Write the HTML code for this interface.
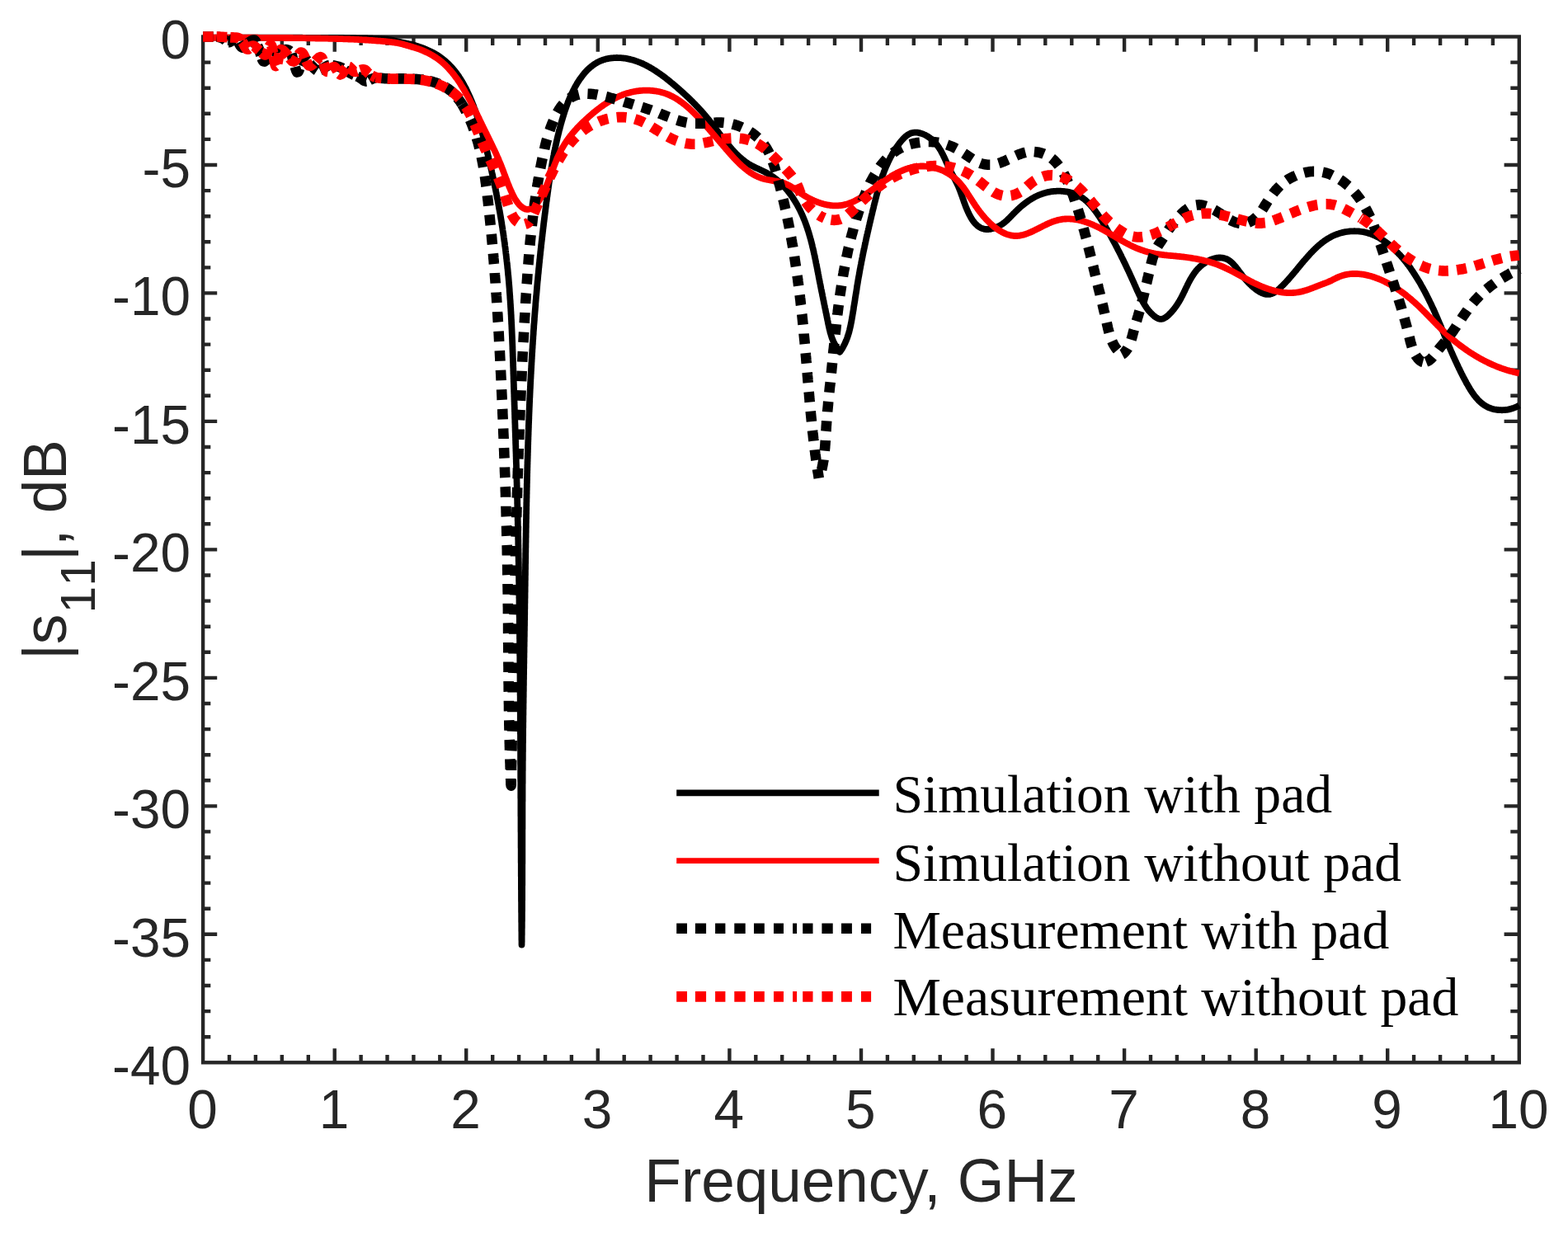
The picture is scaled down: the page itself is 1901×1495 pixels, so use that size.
<!DOCTYPE html>
<html lang="en">
<head>
<meta charset="utf-8">
<title>|s11| versus frequency</title>
<style>
html,body{margin:0;padding:0;background:#fff;}
body{width:1901px;height:1495px;overflow:hidden;}
svg{display:block;}
.tk{font-family:"Liberation Sans",Arial,Helvetica,sans-serif;fill:#262626;}
.lg{font-family:"Liberation Serif","Times New Roman",Times,serif;fill:#000;}
</style>
</head>
<body>
<svg width="1901" height="1495" viewBox="0 0 1901 1495">
<rect x="0" y="0" width="1901" height="1495" fill="#fff"/>
<g stroke="#262626" stroke-width="4.4" fill="none" stroke-linecap="butt">
<path d="M278,1288.3 V1279.1 M278,44.5 V54.9 M309.9,1288.3 V1279.1 M309.9,44.5 V54.9 M341.8,1288.3 V1279.1 M341.8,44.5 V54.9 M373.8,1288.3 V1279.1 M373.8,44.5 V54.9 M405.7,1288.3 V1271.2 M405.7,44.5 V62.7 M437.6,1288.3 V1279.1 M437.6,44.5 V54.9 M469.5,1288.3 V1279.1 M469.5,44.5 V54.9 M501.4,1288.3 V1279.1 M501.4,44.5 V54.9 M533.3,1288.3 V1279.1 M533.3,44.5 V54.9 M565.2,1288.3 V1271.2 M565.2,44.5 V62.7 M597.2,1288.3 V1279.1 M597.2,44.5 V54.9 M629.1,1288.3 V1279.1 M629.1,44.5 V54.9 M661,1288.3 V1279.1 M661,44.5 V54.9 M692.9,1288.3 V1279.1 M692.9,44.5 V54.9 M724.8,1288.3 V1271.2 M724.8,44.5 V62.7 M756.7,1288.3 V1279.1 M756.7,44.5 V54.9 M788.6,1288.3 V1279.1 M788.6,44.5 V54.9 M820.6,1288.3 V1279.1 M820.6,44.5 V54.9 M852.5,1288.3 V1279.1 M852.5,44.5 V54.9 M884.4,1288.3 V1271.2 M884.4,44.5 V62.7 M916.3,1288.3 V1279.1 M916.3,44.5 V54.9 M948.2,1288.3 V1279.1 M948.2,44.5 V54.9 M980.1,1288.3 V1279.1 M980.1,44.5 V54.9 M1012,1288.3 V1279.1 M1012,44.5 V54.9 M1044,1288.3 V1271.2 M1044,44.5 V62.7 M1075.9,1288.3 V1279.1 M1075.9,44.5 V54.9 M1107.8,1288.3 V1279.1 M1107.8,44.5 V54.9 M1139.7,1288.3 V1279.1 M1139.7,44.5 V54.9 M1171.6,1288.3 V1279.1 M1171.6,44.5 V54.9 M1203.5,1288.3 V1271.2 M1203.5,44.5 V62.7 M1235.4,1288.3 V1279.1 M1235.4,44.5 V54.9 M1267.3,1288.3 V1279.1 M1267.3,44.5 V54.9 M1299.3,1288.3 V1279.1 M1299.3,44.5 V54.9 M1331.2,1288.3 V1279.1 M1331.2,44.5 V54.9 M1363.1,1288.3 V1271.2 M1363.1,44.5 V62.7 M1395,1288.3 V1279.1 M1395,44.5 V54.9 M1426.9,1288.3 V1279.1 M1426.9,44.5 V54.9 M1458.8,1288.3 V1279.1 M1458.8,44.5 V54.9 M1490.7,1288.3 V1279.1 M1490.7,44.5 V54.9 M1522.7,1288.3 V1271.2 M1522.7,44.5 V62.7 M1554.6,1288.3 V1279.1 M1554.6,44.5 V54.9 M1586.5,1288.3 V1279.1 M1586.5,44.5 V54.9 M1618.4,1288.3 V1279.1 M1618.4,44.5 V54.9 M1650.3,1288.3 V1279.1 M1650.3,44.5 V54.9 M1682.2,1288.3 V1271.2 M1682.2,44.5 V62.7 M1714.1,1288.3 V1279.1 M1714.1,44.5 V54.9 M1746.1,1288.3 V1279.1 M1746.1,44.5 V54.9 M1778,1288.3 V1279.1 M1778,44.5 V54.9 M1809.9,1288.3 V1279.1 M1809.9,44.5 V54.9 M246.1,75.6 H255.3 M1841.8,75.6 H1831.3 M246.1,106.7 H255.3 M1841.8,106.7 H1831.3 M246.1,137.8 H255.3 M1841.8,137.8 H1831.3 M246.1,168.9 H255.3 M1841.8,168.9 H1831.3 M246.1,200 H263.2 M1841.8,200 H1823.6 M246.1,231.1 H255.3 M1841.8,231.1 H1831.3 M246.1,262.2 H255.3 M1841.8,262.2 H1831.3 M246.1,293.3 H255.3 M1841.8,293.3 H1831.3 M246.1,324.4 H255.3 M1841.8,324.4 H1831.3 M246.1,355.4 H263.2 M1841.8,355.4 H1823.6 M246.1,386.5 H255.3 M1841.8,386.5 H1831.3 M246.1,417.6 H255.3 M1841.8,417.6 H1831.3 M246.1,448.7 H255.3 M1841.8,448.7 H1831.3 M246.1,479.8 H255.3 M1841.8,479.8 H1831.3 M246.1,510.9 H263.2 M1841.8,510.9 H1823.6 M246.1,542 H255.3 M1841.8,542 H1831.3 M246.1,573.1 H255.3 M1841.8,573.1 H1831.3 M246.1,604.2 H255.3 M1841.8,604.2 H1831.3 M246.1,635.3 H255.3 M1841.8,635.3 H1831.3 M246.1,666.4 H263.2 M1841.8,666.4 H1823.6 M246.1,697.5 H255.3 M1841.8,697.5 H1831.3 M246.1,728.6 H255.3 M1841.8,728.6 H1831.3 M246.1,759.7 H255.3 M1841.8,759.7 H1831.3 M246.1,790.8 H255.3 M1841.8,790.8 H1831.3 M246.1,821.9 H263.2 M1841.8,821.9 H1823.6 M246.1,853 H255.3 M1841.8,853 H1831.3 M246.1,884.1 H255.3 M1841.8,884.1 H1831.3 M246.1,915.2 H255.3 M1841.8,915.2 H1831.3 M246.1,946.3 H255.3 M1841.8,946.3 H1831.3 M246.1,977.4 H263.2 M1841.8,977.4 H1823.6 M246.1,1008.4 H255.3 M1841.8,1008.4 H1831.3 M246.1,1039.5 H255.3 M1841.8,1039.5 H1831.3 M246.1,1070.6 H255.3 M1841.8,1070.6 H1831.3 M246.1,1101.7 H255.3 M1841.8,1101.7 H1831.3 M246.1,1132.8 H263.2 M1841.8,1132.8 H1823.6 M246.1,1163.9 H255.3 M1841.8,1163.9 H1831.3 M246.1,1195 H255.3 M1841.8,1195 H1831.3 M246.1,1226.1 H255.3 M1841.8,1226.1 H1831.3 M246.1,1257.2 H255.3 M1841.8,1257.2 H1831.3"/>
<rect x="246.1" y="44.5" width="1595.7" height="1243.8" stroke-width="4.4" stroke-linejoin="miter"/>
</g>
<g fill="none" stroke-linejoin="round" stroke-linecap="butt">
<path stroke="#000" stroke-width="7.8" d="M246.1,45.6 247.3,45.6 248.5,45.6 249.7,45.6 250.9,45.6 252.1,45.6 253.3,45.6 254.5,45.6 255.7,45.6 256.9,45.6 258.1,45.6 259.3,45.6 260.5,45.6 261.7,45.6 262.9,45.6 264.1,45.6 265.3,45.6 266.5,45.6 267.7,45.6 268.9,45.6 270.1,45.6 271.3,45.6 272.5,45.6 273.7,45.6 274.9,45.6 276.1,45.6 277.3,45.6 278.5,45.6 279.7,45.6 280.9,45.6 282.1,45.6 283.3,45.6 284.5,45.6 285.7,45.6 286.9,45.6 288.1,45.6 289.3,45.6 290.5,45.6 291.7,45.6 292.9,45.6 294.1,45.6 295.3,45.6 296.5,45.6 297.7,45.6 298.9,45.6 300.1,45.6 301.3,45.6 302.5,45.6 303.7,45.6 304.9,45.6 306.1,45.6 307.3,45.6 308.5,45.6 309.7,45.6 310.9,45.6 312.1,45.6 313.3,45.6 314.5,45.6 315.7,45.6 316.9,45.6 318.1,45.6 319.3,45.6 320.5,45.6 321.7,45.6 322.9,45.6 324.1,45.6 325.3,45.6 326.5,45.6 327.7,45.6 328.9,45.6 330.1,45.6 331.3,45.6 332.5,45.7 333.7,45.7 334.9,45.7 336.1,45.7 337.3,45.7 338.5,45.7 339.7,45.7 340.9,45.7 342.1,45.7 343.3,45.7 344.5,45.7 345.7,45.7 346.9,45.7 348.1,45.7 349.3,45.7 350.5,45.7 351.7,45.7 352.9,45.7 354.1,45.7 355.3,45.7 356.5,45.7 357.7,45.7 358.9,45.7 360.1,45.7 361.3,45.7 362.5,45.7 363.7,45.7 364.9,45.7 366.1,45.7 367.3,45.8 368.5,45.8 369.7,45.8 370.9,45.8 372.1,45.8 373.3,45.8 374.5,45.8 375.7,45.8 376.9,45.8 378.1,45.8 379.3,45.8 380.5,45.8 381.7,45.8 382.9,45.8 384.1,45.8 385.3,45.8 386.5,45.8 387.7,45.8 388.9,45.8 390.1,45.8 391.3,45.9 392.5,45.9 393.7,45.9 394.9,45.9 396.1,45.9 397.3,45.9 398.5,45.9 399.7,45.9 400.9,45.9 402.1,45.9 403.3,45.9 404.5,45.9 405.7,45.9 406.9,45.9 408.1,46 409.3,46 410.5,46 411.7,46 412.9,46 414.1,46 415.3,46 416.5,46 417.7,46.1 418.9,46.1 420.1,46.1 421.3,46.1 422.5,46.1 423.7,46.1 424.9,46.1 426.1,46.2 427.3,46.2 428.5,46.2 429.7,46.2 430.9,46.2 432.1,46.3 433.3,46.3 434.5,46.3 435.7,46.3 436.9,46.3 438.1,46.4 439.3,46.4 440.5,46.4 441.7,46.4 442.9,46.5 444.1,46.5 445.3,46.5 446.5,46.6 447.7,46.6 448.9,46.6 450.1,46.7 451.3,46.7 452.5,46.8 453.7,46.8 454.9,46.9 456.1,46.9 457.3,47 458.5,47 459.7,47.1 460.9,47.2 462.1,47.2 463.3,47.3 464.5,47.4 465.7,47.5 466.9,47.6 468.1,47.6 469.3,47.7 470.5,47.8 471.7,48 472.8,48.2 474,48.4 475.2,48.6 476.4,48.9 477.5,49.2 478.7,49.5 479.9,49.8 481,50.1 482.2,50.3 483.4,50.6 484.5,50.9 485.7,51.1 486.9,51.4 488.1,51.6 489.2,51.9 490.4,52.1 491.6,52.3 492.8,52.6 493.9,52.8 495.1,53.1 496.3,53.3 497.5,53.6 498.6,53.9 499.8,54.1 501,54.5 502.1,54.8 503.3,55.1 504.4,55.5 505.6,55.8 506.7,56.2 507.8,56.6 509,57 510.1,57.4 511.2,57.8 512.4,58.2 513.5,58.6 514.6,59.1 515.7,59.5 516.8,60 517.9,60.5 519,61 520.1,61.5 521.2,62 522.3,62.5 523.4,63 524.4,63.6 525.3,64 526.4,64.6 527.5,65.2 528.5,65.9 529.6,66.5 530.6,67.2 531.6,67.8 532.6,68.5 533.6,69.2 534.6,69.9 535.5,70.6 536.5,71.3 537.4,72.1 538.3,72.8 539.3,73.6 540.1,74.3 541,75.1 541.9,75.9 542.7,76.7 543.6,77.5 544.4,78.3 545.2,79.2 546,80 546.8,80.8 547.6,81.7 548.4,82.6 549.1,83.4 549.9,84.3 550.6,85.2 551.4,86.1 552.1,87 552.8,87.9 553.5,88.8 554.2,89.8 554.8,90.7 555.5,91.6 556.2,92.6 556.8,93.6 557.4,94.5 558.1,95.5 558.7,96.5 559.3,97.5 559.9,98.5 560.5,99.4 561.1,100.5 561.7,101.5 562.2,102.5 562.8,103.5 563.3,104.5 563.9,105.6 564.4,106.6 565,107.6 565.5,108.7 566,109.7 566.5,110.8 567,111.9 567.5,112.9 568,114 568.5,115.1 569,116.2 569.5,117.2 569.9,118.3 570.4,119.4 570.9,120.5 571.3,121.6 571.8,122.7 572.2,123.8 572.7,124.9 573.1,126 573.6,127.1 574,128.2 574.4,129.3 574.8,130.5 575.2,131.6 575.7,132.7 576.1,133.8 576.5,135 576.9,136.1 577.3,137.2 577.7,138.4 578,139.5 578.4,140.6 578.8,141.8 579.2,142.9 579.6,144.1 579.9,145.2 580.3,146.4 580.6,147.5 581,148.7 581.4,149.8 581.7,151 582.1,152.2 582.4,153.3 582.8,154.5 583.1,155.6 583.4,156.8 583.8,158 584.1,159.1 584.4,160.3 584.8,161.5 585.1,162.7 585.4,163.8 585.7,165 586,166.2 586.4,167.4 586.7,168.5 587,169.7 587.3,170.9 587.6,172.1 587.9,173.2 588.2,174.4 588.5,175.6 588.8,176.8 589.1,178 589.4,179.1 589.7,180.3 590,181.5 590.3,182.7 590.6,183.9 590.8,185.1 591.1,186.2 591.4,187.4 591.7,188.6 592,189.8 592.3,191 592.5,192.2 592.8,193.3 593.1,194.5 593.4,195.7 593.7,196.9 593.9,198.1 594.2,199.3 594.5,200.4 594.8,201.6 595,202.8 595.3,204 595.6,205.2 595.8,206.3 596.1,207.5 596.3,208.7 596.6,209.9 596.9,211.1 597.1,212.3 597.4,213.4 597.6,214.6 597.9,215.8 598.2,217 598.4,218.2 598.7,219.4 598.9,220.5 599.2,221.7 599.4,222.9 599.6,224.1 599.9,225.3 600.1,226.5 600.4,227.6 600.6,228.8 600.9,230 601.1,231.2 601.3,232.4 601.6,233.6 601.8,234.7 602,235.9 602.3,237.1 602.5,238.3 602.7,239.5 602.9,240.7 603.2,241.9 603.4,243 603.6,244.2 603.8,245.4 604.1,246.6 604.3,247.8 604.5,249 604.7,250.1 604.9,251.3 605.1,252.5 605.3,253.7 605.6,254.9 605.8,256.1 606,257.3 606.2,258.4 606.4,259.6 606.6,260.8 606.8,262 607,263.2 607.2,264.4 607.4,265.6 607.6,266.7 607.8,267.9 608,269.1 608.2,270.3 608.3,271.5 608.5,272.7 608.7,273.9 608.9,275 609.1,276.2 609.3,277.4 609.4,278.6 609.6,279.8 609.8,281 610,282.2 610.2,283.4 610.3,284.5 610.5,285.7 610.7,286.9 610.8,288.1 611,289.3 611.2,290.5 611.3,291.7 611.5,292.9 611.7,294 611.8,295.2 612,296.4 612.1,297.6 612.3,298.8 612.5,300 612.6,301.2 612.8,302.4 612.9,303.6 613.1,304.7 613.2,305.9 613.3,307.1 613.5,308.3 613.6,309.5 613.8,310.7 613.9,311.9 614,313.1 614.2,314.3 614.3,315.4 614.4,316.6 614.6,317.8 614.7,319 614.8,320.2 615,321.4 615.1,322.6 615.2,323.8 615.3,325 615.5,326.2 615.6,327.4 615.7,328.5 615.8,329.7 615.9,330.9 616,332.1 616.1,333.3 616.3,334.5 616.4,335.7 616.5,336.9 616.6,338.1 616.7,339.3 616.8,340.5 616.9,341.7 617,342.9 617.1,344 617.2,345.2 617.3,346.4 617.4,347.6 617.5,348.8 617.6,350 617.7,351.2 617.7,352.4 617.8,353.6 617.9,354.8 618,356 618.1,357.2 618.2,358.4 618.3,359.6 618.3,360.8 618.4,362 618.5,363.2 618.6,364.3 618.7,365.5 618.7,366.7 618.8,367.9 618.9,369.1 619,370.3 619,371.5 619.1,372.7 619.2,373.9 619.3,375.1 619.3,376.3 619.4,377.5 619.5,378.7 619.5,379.9 619.6,381.1 619.7,382.3 619.7,383.5 619.8,384.7 619.8,385.9 619.9,387.1 620,388.3 620,389.5 620.1,390.7 620.1,391.9 620.2,393.1 620.3,394.3 620.3,395.5 620.4,396.7 620.4,397.9 620.5,399 620.5,400.2 620.6,401.4 620.6,402.6 620.7,403.8 620.7,405 620.8,406.2 620.8,407.4 620.9,408.6 620.9,409.8 621,411 621,412.2 621.1,413.4 621.1,414.6 621.2,415.8 621.2,417 621.3,418.2 621.3,419.4 621.4,420.6 621.4,421.8 621.4,423 621.5,424.2 621.5,425.4 621.6,426.6 621.6,427.8 621.7,429 621.7,430.2 621.7,431.4 621.8,432.6 621.8,433.8 621.9,435 621.9,436.2 621.9,437.4 622,438.6 622,439.8 622.1,441 622.1,442.2 622.1,443.4 622.2,444.6 622.2,445.8 622.3,447 622.3,448.2 622.3,449.4 622.4,450.6 622.4,451.8 622.4,453 622.5,454.2 622.5,455.4 622.6,456.6 622.6,457.8 622.6,459 622.7,460.2 622.7,461.4 622.7,462.6 622.8,463.8 622.8,465 622.9,466.2 622.9,467.4 622.9,468.6 623,469.9 623,471.1 623.1,472.3 623.1,473.5 623.1,474.7 623.2,475.9 623.2,477.1 623.3,478.3 623.3,479.5 623.3,480.7 623.4,481.9 623.4,483.1 623.4,484.3 623.5,485.5 623.5,486.7 623.6,487.9 623.6,489.1 623.6,490.3 623.7,491.5 623.7,492.7 623.8,493.9 623.8,495.1 623.8,496.3 623.9,497.5 623.9,498.7 624,499.9 624,501.1 624,502.3 624.1,503.5 624.1,504.7 624.1,505.9 624.2,507.1 624.2,508.3 624.3,509.5 624.3,510.7 624.3,511.9 624.4,513.1 624.4,514.3 624.5,515.5 624.5,516.8 624.5,518 624.6,519.2 624.6,520.4 624.6,521.6 624.7,522.8 624.7,524 624.8,525.2 624.8,526.4 624.8,527.6 624.9,528.8 624.9,530 625,531.2 625,532.4 625,533.6 625.1,534.8 625.1,536 625.1,537.2 625.2,538.4 625.2,539.6 625.3,540.8 625.3,542 625.3,543.2 625.4,544.4 625.4,545.6 625.4,546.8 625.5,548 625.5,549.2 625.6,550.5 625.6,551.7 625.6,552.9 625.7,554.1 625.7,555.3 625.7,556.5 625.8,557.7 625.8,558.9 625.8,560.1 625.9,561.3 625.9,562.5 626,563.7 626,564.9 626,566.1 626.1,567.3 626.1,568.5 626.1,569.7 626.2,570.9 626.2,572.1 626.2,573.3 626.3,574.5 626.3,575.7 626.3,576.9 626.4,578.1 626.4,579.3 626.4,580.5 626.5,581.7 626.5,583 626.5,584.2 626.6,585.4 626.6,586.6 626.6,587.8 626.7,589 626.7,590.2 626.7,591.4 626.8,592.6 626.8,593.8 626.8,595 626.9,596.2 626.9,597.4 626.9,598.6 627,599.8 627,601 627,602.2 627.1,603.4 627.1,604.6 627.1,605.8 627.2,607 627.2,608.2 627.2,609.4 627.2,610.6 627.3,611.8 627.3,613 627.3,614.2 627.4,615.4 627.4,616.6 627.4,617.8 627.5,619.1 627.5,620.3 627.5,621.5 627.5,622.7 627.6,623.9 627.6,625.1 627.6,626.3 627.7,627.5 627.7,628.7 627.7,629.9 627.7,631.1 627.8,632.3 627.8,633.5 627.8,634.7 627.8,635.9 627.9,637.1 627.9,638.3 627.9,639.5 627.9,640.7 628,641.9 628,643.1 628,644.3 628.1,645.5 628.1,646.7 628.1,647.9 628.1,649.1 628.2,650.3 628.2,651.5 628.2,652.7 628.2,653.9 628.3,655.1 628.3,656.3 628.3,657.5 628.3,658.7 628.3,659.9 628.4,661.1 628.4,662.4 628.4,663.6 628.4,664.8 628.5,666 628.5,667.2 628.5,668.4 628.5,669.6 628.6,670.8 628.6,672 628.6,673.2 628.6,674.4 628.6,675.6 628.7,676.8 628.7,678 628.7,679.2 628.7,680.4 628.8,681.6 628.8,682.8 628.8,684 628.8,685.2 628.8,686.4 628.9,687.6 628.9,688.8 628.9,690 628.9,691.2 628.9,692.4 629,693.6 629,694.8 629,696 629,697.2 629,698.4 629.1,699.6 629.1,700.8 629.1,702 629.1,703.2 629.1,704.4 629.2,705.6 629.2,706.8 629.2,708 629.2,709.2 629.2,710.4 629.2,711.6 629.3,712.8 629.3,714 629.3,715.2 629.3,716.5 629.3,717.7 629.4,718.9 629.4,720.1 629.4,721.3 629.4,722.5 629.4,723.7 629.4,724.9 629.5,726.1 629.5,727.3 629.5,728.5 629.5,729.7 629.5,730.9 629.5,732.1 629.6,733.3 629.6,734.5 629.6,735.7 629.6,736.9 629.6,738.1 629.6,739.3 629.6,740.5 629.7,741.7 629.7,742.9 629.7,744.1 629.7,745.3 629.7,746.5 629.7,747.7 629.8,748.9 629.8,750.1 629.8,751.3 629.8,752.5 629.8,753.7 629.8,754.9 629.8,756.1 629.9,757.3 629.9,758.5 629.9,759.7 629.9,760.9 629.9,762.1 629.9,763.3 629.9,764.5 630,765.7 630,766.9 630,768.1 630,769.3 630,770.5 630,771.7 630,772.9 630,774.1 630.1,775.3 630.1,776.5 630.1,777.7 630.1,778.9 630.1,780.1 630.1,781.3 630.1,782.5 630.1,783.7 630.2,784.9 630.2,786.1 630.2,787.3 630.2,788.5 630.2,789.7 630.2,791 630.2,792.2 630.2,793.4 630.2,794.6 630.3,795.8 630.3,797 630.3,798.2 630.3,799.4 630.3,800.6 630.3,801.8 630.3,803 630.3,804.2 630.3,805.4 630.4,806.6 630.4,807.8 630.4,809 630.4,810.2 630.4,811.4 630.4,812.6 630.4,813.8 630.4,815 630.4,816.2 630.5,817.4 630.5,818.6 630.5,819.8 630.5,821 630.5,822.2 630.5,823.4 630.5,824.6 630.5,825.8 630.5,827 630.5,828.2 630.5,829.4 630.6,830.6 630.6,831.8 630.6,833 630.6,834.2 630.6,835.4 630.6,836.6 630.6,837.8 630.6,839 630.6,840.2 630.6,841.4 630.6,842.6 630.7,843.8 630.7,845 630.7,846.2 630.7,847.4 630.7,848.6 630.7,849.8 630.7,851 630.7,852.2 630.7,853.4 630.7,854.6 630.7,855.8 630.7,857 630.8,858.2 630.8,859.4 630.8,860.6 630.8,861.8 630.8,863 630.8,864.2 630.8,865.4 630.8,866.6 630.8,867.8 630.8,869 630.8,870.2 630.8,871.4 630.8,872.6 630.9,873.8 630.9,875 630.9,876.2 630.9,877.4 630.9,878.6 630.9,879.8 630.9,881 630.9,882.2 630.9,883.4 630.9,884.7 630.9,885.9 630.9,887.1 630.9,888.3 630.9,889.5 631,890.7 631,891.9 631,893.1 631,894.3 631,895.5 631,896.7 631,897.9 631,899.1 631,900.3 631,901.5 631,902.7 631,903.9 631,905.1 631,906.3 631,907.5 631.1,908.7 631.1,909.9 631.1,911.1 631.1,912.3 631.1,913.5 631.1,914.7 631.1,915.9 631.1,917.1 631.1,918.3 631.1,919.5 631.1,920.7 631.1,921.9 631.1,923.1 631.1,924.3 631.1,925.5 631.1,926.7 631.2,927.9 631.2,929.1 631.2,930.3 631.2,931.5 631.2,932.7 631.2,933.9 631.2,935.1 631.2,936.3 631.2,937.5 631.2,938.7 631.2,939.9 631.2,941.1 631.2,942.3 631.2,943.5 631.2,944.7 631.2,945.9 631.2,947.1 631.3,948.3 631.3,949.5 631.3,950.7 631.3,951.9 631.3,953.1 631.3,954.3 631.3,955.5 631.3,956.7 631.3,957.9 631.3,959.1 631.3,960.3 631.3,961.5 631.3,962.7 631.3,963.9 631.3,965.1 631.3,966.3 631.3,967.5 631.4,968.7 631.4,969.9 631.4,971.1 631.4,972.4 631.4,973.6 631.4,974.8 631.4,976 631.4,977.2 631.4,978.4 631.4,979.6 631.4,980.8 631.4,982 631.4,983.2 631.4,984.4 631.4,985.6 631.4,986.8 631.4,988 631.4,989.2 631.5,990.4 631.5,991.6 631.5,992.8 631.5,994 631.5,995.2 631.5,996.4 631.5,997.6 631.5,998.8 631.5,1000 631.5,1001.2 631.5,1002.4 631.5,1003.6 631.5,1004.8 631.5,1006 631.5,1007.2 631.5,1008.4 631.6,1009.6 631.6,1010.8 631.6,1012 631.6,1013.2 631.6,1014.4 631.6,1015.6 631.6,1016.8 631.6,1018 631.6,1019.2 631.6,1020.4 631.6,1021.6 631.6,1022.8 631.6,1024 631.6,1025.2 631.6,1026.4 631.6,1027.6 631.7,1028.8 631.7,1030 631.7,1031.2 631.7,1032.4 631.7,1033.6 631.7,1034.8 631.7,1036 631.7,1037.2 631.7,1038.5 631.7,1039.7 631.7,1040.9 631.7,1042.1 631.7,1043.3 631.7,1044.5 631.7,1045.7 631.8,1046.9 631.8,1048.1 631.8,1049.3 631.8,1050.5 631.8,1051.7 631.8,1052.9 631.8,1054.1 631.8,1055.3 631.8,1056.5 631.8,1057.7 631.8,1058.9 631.8,1060.1 631.8,1061.3 631.8,1062.5 631.9,1063.7 631.9,1064.9 631.9,1066.1 631.9,1067.3 631.9,1068.5 631.9,1069.7 631.9,1070.9 631.9,1072.1 631.9,1073.3 631.9,1074.5 631.9,1075.7 631.9,1076.9 631.9,1078.1 632,1079.3 632,1080.5 632,1081.7 632,1082.9 632,1084.1 632,1085.3 632,1086.5 632,1087.7 632,1089 632,1090.2 632,1091.4 632,1092.6 632.1,1093.8 632.1,1095 632.1,1096.2 632.1,1097.4 632.1,1098.6 632.1,1099.8 632.1,1101 632.1,1102.2 632.1,1103.4 632.1,1104.6 632.1,1105.8 632.2,1107 632.2,1108.2 632.2,1109.4 632.2,1110.6 632.2,1111.8 632.2,1113 632.2,1114.2 632.2,1115.4 632.2,1116.6 632.2,1117.8 632.3,1119 632.3,1120.2 632.3,1121.4 632.3,1122.6 632.3,1123.8 632.3,1125 632.3,1126.2 632.3,1127.4 632.3,1128.7 632.4,1129.9 632.4,1131.1 632.4,1132.3 632.4,1133.5 632.4,1134.7 632.4,1135.9 632.4,1137.1 632.4,1138.3 632.4,1139.5 632.5,1140.7 632.5,1141.9 632.5,1143.1 632.5,1144.3 632.5,1145.5 632.5,1144.3 632.5,1143.1 632.6,1141.9 632.6,1140.7 632.6,1139.5 632.6,1138.3 632.6,1137.1 632.6,1135.9 632.6,1134.7 632.7,1133.5 632.7,1132.3 632.7,1131.1 632.7,1129.9 632.7,1128.7 632.7,1127.5 632.7,1126.3 632.8,1125.1 632.8,1123.9 632.8,1122.7 632.8,1121.5 632.8,1120.3 632.8,1119.1 632.8,1117.9 632.9,1116.7 632.9,1115.5 632.9,1114.3 632.9,1113.1 632.9,1111.9 632.9,1110.7 632.9,1109.5 632.9,1108.3 632.9,1107.1 632.9,1105.9 633,1104.7 633,1103.5 633,1102.3 633,1101.1 633,1099.9 633,1098.7 633,1097.5 633,1096.3 633,1095.1 633,1093.9 633,1092.7 633.1,1091.5 633.1,1090.3 633.1,1089.1 633.1,1087.9 633.1,1086.7 633.1,1085.5 633.1,1084.3 633.1,1083.1 633.1,1081.9 633.1,1080.7 633.1,1079.5 633.1,1078.3 633.1,1077.1 633.1,1075.9 633.1,1074.6 633.2,1073.4 633.2,1072.2 633.2,1071 633.2,1069.8 633.2,1068.6 633.2,1067.4 633.2,1066.2 633.2,1065 633.2,1063.8 633.2,1062.6 633.2,1061.4 633.2,1060.2 633.2,1059 633.2,1057.8 633.2,1056.6 633.2,1055.4 633.2,1054.2 633.2,1053 633.2,1051.8 633.2,1050.6 633.2,1049.4 633.2,1048.2 633.3,1047 633.3,1045.8 633.3,1044.6 633.3,1043.4 633.3,1042.2 633.3,1041 633.3,1039.8 633.3,1038.6 633.3,1037.4 633.3,1036.2 633.3,1035 633.3,1033.8 633.3,1032.6 633.3,1031.4 633.3,1030.2 633.3,1029 633.3,1027.8 633.3,1026.6 633.3,1025.4 633.3,1024.2 633.3,1023 633.3,1021.8 633.3,1020.6 633.3,1019.4 633.3,1018.2 633.3,1017 633.3,1015.8 633.3,1014.6 633.3,1013.4 633.3,1012.2 633.3,1011 633.3,1009.8 633.3,1008.6 633.3,1007.4 633.3,1006.2 633.4,1005 633.4,1003.8 633.4,1002.6 633.4,1001.4 633.4,1000.2 633.4,999 633.4,997.8 633.4,996.6 633.4,995.4 633.4,994.2 633.4,993 633.4,991.7 633.4,990.5 633.4,989.3 633.4,988.1 633.4,986.9 633.4,985.7 633.4,984.5 633.4,983.3 633.4,982.1 633.4,980.9 633.4,979.7 633.4,978.5 633.4,977.3 633.4,976.1 633.4,974.9 633.4,973.7 633.4,972.5 633.5,971.3 633.5,970.1 633.5,968.9 633.5,967.7 633.5,966.5 633.5,965.3 633.5,964.1 633.5,962.9 633.5,961.7 633.5,960.5 633.5,959.3 633.5,958.1 633.5,956.9 633.5,955.7 633.5,954.5 633.5,953.3 633.5,952.1 633.5,950.9 633.6,949.7 633.6,948.5 633.6,947.3 633.6,946.1 633.6,944.9 633.6,943.7 633.6,942.5 633.6,941.3 633.6,940.1 633.6,938.9 633.6,937.7 633.6,936.5 633.6,935.3 633.7,934.1 633.7,932.9 633.7,931.7 633.7,930.5 633.7,929.3 633.7,928.1 633.7,926.8 633.7,925.6 633.7,924.4 633.7,923.2 633.8,922 633.8,920.8 633.8,919.6 633.8,918.4 633.8,917.2 633.8,916 633.8,914.8 633.8,913.6 633.8,912.4 633.9,911.2 633.9,910 633.9,908.8 633.9,907.6 633.9,906.4 633.9,905.2 633.9,904 633.9,902.8 633.9,901.6 634,900.4 634,899.2 634,898 634,896.8 634,895.6 634,894.4 634,893.2 634.1,892 634.1,890.8 634.1,889.6 634.1,888.4 634.1,887.2 634.1,886 634.1,884.8 634.1,883.6 634.2,882.4 634.2,881.2 634.2,880 634.2,878.8 634.2,877.6 634.2,876.4 634.3,875.2 634.3,874 634.3,872.8 634.3,871.6 634.3,870.4 634.3,869.2 634.3,868 634.4,866.7 634.4,865.5 634.4,864.3 634.4,863.1 634.4,861.9 634.4,860.7 634.5,859.5 634.5,858.3 634.5,857.1 634.5,855.9 634.5,854.7 634.5,853.5 634.6,852.3 634.6,851.1 634.6,849.9 634.6,848.7 634.6,847.5 634.6,846.3 634.7,845.1 634.7,843.9 634.7,842.7 634.7,841.5 634.7,840.3 634.7,839.1 634.8,837.9 634.8,836.7 634.8,835.5 634.8,834.3 634.8,833.1 634.8,831.9 634.9,830.7 634.9,829.5 634.9,828.3 634.9,827.1 634.9,825.9 634.9,824.7 635,823.5 635,822.3 635,821.1 635,819.9 635,818.7 635.1,817.5 635.1,816.3 635.1,815.1 635.1,813.9 635.1,812.7 635.1,811.5 635.2,810.3 635.2,809 635.2,807.8 635.2,806.6 635.2,805.4 635.3,804.2 635.3,803 635.3,801.8 635.3,800.6 635.3,799.4 635.3,798.2 635.4,797 635.4,795.8 635.4,794.6 635.4,793.4 635.4,792.2 635.5,791 635.5,789.8 635.5,788.6 635.5,787.4 635.5,786.2 635.5,785 635.6,783.8 635.6,782.6 635.6,781.4 635.6,780.2 635.6,779 635.7,777.8 635.7,776.6 635.7,775.4 635.7,774.2 635.7,773 635.8,771.8 635.8,770.6 635.8,769.4 635.8,768.2 635.8,767 635.8,765.8 635.9,764.6 635.9,763.4 635.9,762.2 635.9,761 635.9,759.8 636,758.6 636,757.4 636,756.2 636,755 636,753.8 636,752.6 636.1,751.4 636.1,750.2 636.1,749 636.1,747.7 636.1,746.5 636.2,745.3 636.2,744.1 636.2,742.9 636.2,741.7 636.2,740.5 636.2,739.3 636.3,738.1 636.3,736.9 636.3,735.7 636.3,734.5 636.3,733.3 636.3,732.1 636.4,730.9 636.4,729.7 636.4,728.5 636.4,727.3 636.4,726.1 636.5,724.9 636.5,723.7 636.5,722.5 636.5,721.3 636.5,720.1 636.5,718.9 636.6,717.7 636.6,716.5 636.6,715.3 636.6,714.1 636.6,712.9 636.6,711.7 636.7,710.5 636.7,709.3 636.7,708.1 636.7,706.9 636.7,705.7 636.7,704.5 636.8,703.3 636.8,702.1 636.8,700.9 636.8,699.7 636.8,698.5 636.9,697.3 636.9,696.1 636.9,694.9 636.9,693.7 636.9,692.5 636.9,691.3 637,690.1 637,688.9 637,687.7 637,686.5 637,685.3 637,684.1 637.1,682.9 637.1,681.7 637.1,680.5 637.1,679.3 637.1,678.1 637.2,676.8 637.2,675.6 637.2,674.4 637.2,673.2 637.2,672 637.2,670.8 637.3,669.6 637.3,668.4 637.3,667.2 637.3,666 637.3,664.8 637.4,663.6 637.4,662.4 637.4,661.2 637.4,660 637.4,658.8 637.5,657.6 637.5,656.4 637.5,655.2 637.5,654 637.5,652.8 637.6,651.6 637.6,650.4 637.6,649.2 637.6,648 637.6,646.8 637.7,645.6 637.7,644.4 637.7,643.2 637.7,642 637.7,640.8 637.8,639.6 637.8,638.4 637.8,637.2 637.8,636 637.8,634.8 637.9,633.6 637.9,632.4 637.9,631.2 637.9,630 638,628.8 638,627.6 638,626.4 638,625.2 638,624 638.1,622.8 638.1,621.6 638.1,620.4 638.1,619.2 638.2,618 638.2,616.8 638.2,615.6 638.2,614.4 638.3,613.2 638.3,612 638.3,610.8 638.3,609.6 638.4,608.4 638.4,607.2 638.4,606 638.4,604.8 638.5,603.6 638.5,602.4 638.5,601.2 638.5,600 638.6,598.8 638.6,597.6 638.6,596.4 638.6,595.2 638.7,594 638.7,592.8 638.7,591.6 638.8,590.4 638.8,589.2 638.8,588 638.8,586.8 638.9,585.6 638.9,584.4 638.9,583.2 639,582 639,580.8 639,579.6 639,578.4 639.1,577.2 639.1,576 639.1,574.8 639.2,573.6 639.2,572.4 639.2,571.2 639.3,569.9 639.3,568.7 639.3,567.5 639.4,566.3 639.4,565.1 639.4,563.9 639.5,562.7 639.5,561.5 639.5,560.3 639.6,559.1 639.6,557.9 639.6,556.7 639.7,555.5 639.7,554.3 639.7,553.1 639.8,551.9 639.8,550.7 639.8,549.5 639.9,548.3 639.9,547.1 639.9,545.9 640,544.7 640,543.5 640,542.3 640.1,541.1 640.1,539.9 640.2,538.7 640.2,537.5 640.2,536.3 640.3,535.1 640.3,533.9 640.4,532.7 640.4,531.5 640.4,530.3 640.5,529.1 640.5,527.9 640.6,526.7 640.6,525.5 640.6,524.3 640.7,523.1 640.7,521.9 640.8,520.7 640.8,519.5 640.9,518.3 640.9,517.1 640.9,515.9 641,514.7 641,513.5 641.1,512.3 641.1,511.1 641.2,509.9 641.2,508.7 641.3,507.5 641.3,506.3 641.3,505.1 641.4,503.9 641.4,502.7 641.5,501.5 641.5,500.3 641.6,499.1 641.6,497.9 641.7,496.7 641.7,495.5 641.8,494.3 641.8,493.1 641.9,491.9 641.9,490.7 642,489.5 642,488.3 642.1,487.1 642.1,485.9 642.2,484.7 642.2,483.5 642.3,482.3 642.4,481.1 642.4,479.9 642.5,478.7 642.5,477.5 642.6,476.3 642.6,475.1 642.7,473.9 642.7,472.7 642.8,471.5 642.9,470.3 642.9,469.1 643,467.9 643,466.7 643.1,465.5 643.1,464.3 643.2,463.1 643.3,461.9 643.3,460.7 643.4,459.5 643.5,458.3 643.5,457.1 643.6,456 643.6,454.8 643.7,453.6 643.8,452.4 643.8,451.2 643.9,450 644,448.8 644,447.6 644.1,446.4 644.2,445.2 644.2,444 644.3,442.8 644.4,441.6 644.4,440.4 644.5,439.2 644.6,438 644.6,436.8 644.7,435.6 644.8,434.4 644.8,433.2 644.9,432 645,430.8 645,429.6 645.1,428.4 645.2,427.2 645.3,426 645.3,424.8 645.4,423.6 645.5,422.4 645.6,421.2 645.6,420 645.7,418.8 645.8,417.6 645.9,416.4 645.9,415.2 646,414 646.1,412.8 646.2,411.6 646.3,410.4 646.3,409.2 646.4,408 646.5,406.8 646.6,405.6 646.7,404.4 646.7,403.2 646.8,402 646.9,400.8 647,399.6 647.1,398.4 647.2,397.2 647.2,396 647.3,394.8 647.4,393.6 647.5,392.4 647.6,391.2 647.7,390 647.8,388.8 647.9,387.6 647.9,386.4 648,385.2 648.1,384 648.2,382.8 648.3,381.6 648.4,380.4 648.5,379.2 648.6,378 648.7,376.8 648.8,375.6 648.9,374.4 649,373.2 649.1,372 649.2,370.8 649.3,369.6 649.3,368.5 649.4,367.3 649.5,366.1 649.6,364.9 649.7,363.7 649.8,362.5 649.9,361.3 650,360.1 650.1,358.9 650.3,357.7 650.4,356.5 650.5,355.3 650.6,354.1 650.7,352.9 650.8,351.7 650.9,350.5 651,349.3 651.1,348.1 651.2,346.9 651.3,345.7 651.4,344.5 651.5,343.3 651.6,342.1 651.7,340.9 651.9,339.7 652,338.5 652.1,337.3 652.2,336.1 652.3,334.9 652.4,333.7 652.5,332.5 652.7,331.3 652.8,330.1 652.9,328.9 653,327.7 653.1,326.5 653.2,325.3 653.4,324.1 653.5,322.9 653.6,321.8 653.7,320.6 653.8,319.4 654,318.2 654.1,317 654.2,315.8 654.3,314.6 654.5,313.4 654.6,312.2 654.7,311 654.8,309.8 655,308.6 655.1,307.4 655.2,306.2 655.3,305 655.5,303.8 655.6,302.6 655.7,301.4 655.9,300.2 656,299 656.1,297.8 656.2,296.6 656.4,295.4 656.5,294.2 656.6,293.1 656.8,291.9 656.9,290.7 657.1,289.5 657.2,288.3 657.3,287.1 657.5,285.9 657.6,284.7 657.7,283.5 657.9,282.3 658,281.1 658.2,279.9 658.3,278.7 658.4,277.5 658.6,276.3 658.7,275.1 658.9,273.9 659,272.8 659.1,271.6 659.3,270.4 659.4,269.2 659.6,268 659.7,266.8 659.9,265.6 660,264.4 660.2,263.2 660.3,262 660.5,260.8 660.6,259.6 660.8,258.5 660.9,257.3 661.1,256.1 661.2,254.9 661.4,253.7 661.5,252.5 661.7,251.3 661.8,250.1 662,248.9 662.1,247.7 662.3,246.5 662.4,245.4 662.6,244.2 662.8,243 662.9,241.8 663.1,240.6 663.2,239.4 663.4,238.2 663.6,237 663.7,235.8 663.9,234.7 664,233.5 664.2,232.3 664.4,231.1 664.5,229.9 664.7,228.7 664.9,227.5 665,226.4 665.2,225.2 665.4,224 665.5,222.8 665.7,221.6 665.9,220.4 666.1,219.2 666.3,218.1 666.4,216.9 666.6,215.7 666.8,214.5 667,213.3 667.2,212.1 667.4,210.9 667.5,209.8 667.7,208.6 667.9,207.4 668.1,206.2 668.3,205 668.5,203.8 668.7,202.7 668.9,201.5 669.1,200.3 669.3,199.1 669.5,197.9 669.7,196.8 669.9,195.6 670.2,194.4 670.4,193.2 670.6,192 670.8,190.9 671,189.7 671.3,188.5 671.5,187.3 671.7,186.1 671.9,185 672.2,183.8 672.4,182.6 672.7,181.4 672.9,180.3 673.1,179.1 673.4,177.9 673.6,176.7 673.9,175.6 674.2,174.4 674.4,173.2 674.7,172 674.9,170.9 675.2,169.7 675.5,168.5 675.7,167.3 676,166.2 676.3,165 676.6,163.8 676.9,162.6 677.2,161.5 677.5,160.3 677.7,159.1 678,157.9 678.4,156.8 678.7,155.6 679,154.4 679.3,153.3 679.6,152.1 679.9,150.9 680.2,149.8 680.6,148.6 680.9,147.4 681.2,146.2 681.6,145.1 681.9,143.9 682.3,142.7 682.6,141.6 683,140.4 683.3,139.3 683.7,138.1 684.1,136.9 684.4,135.8 684.8,134.6 685.2,133.5 685.6,132.3 686,131.2 686.4,130 686.8,128.9 687.2,127.7 687.6,126.6 688.1,125.5 688.5,124.3 688.9,123.2 689.4,122.1 689.8,121 690.3,119.9 690.8,118.7 691.2,117.6 691.7,116.5 692.2,115.4 692.7,114.3 693.2,113.3 693.8,112.2 694.3,111.1 694.8,110 695.4,108.9 695.9,107.9 696.5,106.8 697,105.8 697.6,104.7 698.2,103.7 698.8,102.7 699.4,101.6 700,100.6 700.7,99.6 701.3,98.6 702,97.6 702.6,96.6 703.3,95.6 704,94.7 704.7,93.7 705.4,92.8 706.1,91.8 706.8,90.9 707.5,90 708.3,89.1 709,88.2 709.8,87.3 710.6,86.5 711.4,85.6 712.2,84.8 713,84 713.9,83.2 714.7,82.5 715.6,81.7 716.5,81 717.3,80.3 718.2,79.6 719.2,78.9 720.1,78.2 721,77.6 722,77 723,76.4 723.9,75.8 724.9,75.3 726,74.8 727,74.3 728,73.8 729.1,73.4 730.2,73 731.3,72.6 732.4,72.2 733.5,71.9 734.6,71.6 735.8,71.3 736.9,71.1 738.1,70.9 739.3,70.7 740.5,70.5 741.7,70.4 742.9,70.3 744.1,70.2 745.3,70.1 746.6,70.1 747.8,70 749,70.1 750.3,70.1 751.5,70.1 752.7,70.2 754,70.3 755.2,70.4 756.4,70.6 757.7,70.7 758.9,70.9 760.1,71.1 761.3,71.4 762.5,71.6 763.7,71.9 764.9,72.2 766,72.5 767.2,72.8 768.3,73.1 769.5,73.5 770.6,73.9 771.8,74.3 772.9,74.7 774,75.1 775.2,75.5 776.3,76 777.4,76.5 778.5,76.9 779.6,77.4 780.7,78 781.8,78.5 782.9,79 784,79.6 785,80.2 786.1,80.7 787.2,81.3 788.2,81.9 789.3,82.6 790.4,83.2 791.4,83.8 792.5,84.5 793.5,85.1 794.6,85.8 795.6,86.5 796.6,87.2 797.7,87.9 798.7,88.6 799.7,89.3 800.7,90 801.8,90.7 802.8,91.5 803.8,92.2 804.8,92.9 805.8,93.7 806.8,94.4 807.7,95.2 808.7,96 809.7,96.7 810.7,97.5 811.6,98.3 812.6,99.1 813.5,99.9 814.5,100.6 815.4,101.4 816.4,102.2 817.3,103 818.2,103.8 819.2,104.6 820.1,105.4 821,106.2 821.9,107 822.8,107.8 823.7,108.5 824.6,109.3 825.5,110.1 826.4,110.9 827.2,111.7 828.1,112.5 829,113.3 829.8,114.1 830.7,114.9 831.5,115.6 832.4,116.4 833.2,117.2 834.1,118 834.9,118.8 835.7,119.6 836.5,120.4 837.4,121.2 838.2,122 839,122.8 839.8,123.6 840.6,124.4 841.4,125.2 842.2,126 843,126.8 843.8,127.7 844.6,128.5 845.4,129.3 846.2,130.2 847,131 847.7,131.8 848.5,132.7 849.3,133.5 850.1,134.4 850.8,135.3 851.6,136.1 852.4,137 853.1,137.9 853.9,138.8 854.7,139.7 855.4,140.6 856.2,141.5 857,142.4 857.7,143.3 858.5,144.3 859.2,145.2 860,146.1 860.8,147.1 861.5,148.1 862.3,149 863,150 863.8,151 864.5,152 865.3,152.9 866.1,153.9 866.8,154.9 867.6,155.9 868.3,156.9 869.1,157.9 869.9,158.9 870.6,159.9 871.4,160.9 872.1,162 872.9,163 873.7,164 874.4,165 875.2,166 876,167 876.8,168 877.5,169 878.3,169.9 879.1,170.9 879.9,171.9 880.7,172.9 881.4,173.9 882.2,174.8 883,175.8 883.8,176.7 884.6,177.7 885.4,178.6 886.2,179.5 887,180.5 887.8,181.4 888.6,182.3 889.5,183.2 890.3,184 891.1,184.9 891.9,185.8 892.8,186.6 893.6,187.5 894.5,188.3 895.3,189.1 896.2,189.9 897,190.7 897.9,191.4 898.8,192.2 899.7,193 900.6,193.7 901.5,194.4 902.4,195.1 903.3,195.8 904.2,196.5 905.2,197.1 906.1,197.8 907.1,198.4 908,199 909,199.6 910,200.2 911,200.7 912,201.3 913.1,201.8 914.1,202.3 915.1,202.9 916.2,203.4 917.2,203.8 918.3,204.3 919.4,204.8 920.4,205.3 921.5,205.8 922.5,206.3 923.6,206.8 924.7,207.3 925.7,207.8 926.8,208.3 927.8,208.8 928.8,209.4 929.9,209.9 930.9,210.5 931.9,211.1 932.9,211.7 933.9,212.3 934.9,212.9 935.8,213.5 936.8,214.2 937.8,214.9 938.7,215.6 939.6,216.3 940.6,217 941.5,217.7 942.4,218.5 943.3,219.2 944.2,220 945,220.8 945.9,221.6 946.8,222.4 947.6,223.2 948.4,224.1 949.3,224.9 950.1,225.8 950.9,226.6 951.7,227.5 952.5,228.4 953.2,229.3 954,230.2 954.8,231.1 955.5,232.1 956.2,233 957,233.9 957.7,234.9 958.4,235.8 959.1,236.8 959.8,237.8 960.5,238.7 961.1,239.7 961.8,240.7 962.4,241.7 963.1,242.7 963.7,243.7 964.3,244.7 964.9,245.8 965.5,246.8 966.1,247.8 966.7,248.8 967.3,249.9 967.8,250.9 968.4,252 968.9,253 969.5,254.1 970,255.1 970.5,256.2 971,257.2 971.5,258.3 972,259.4 972.5,260.5 973,261.5 973.4,262.6 973.9,263.7 974.3,264.8 974.8,265.9 975.2,267 975.7,268.1 976.1,269.2 976.5,270.3 976.9,271.4 977.3,272.5 977.7,273.7 978.1,274.8 978.5,275.9 978.9,277 979.2,278.2 979.6,279.3 980,280.4 980.3,281.6 980.7,282.7 981,283.9 981.3,285 981.7,286.2 982,287.3 982.3,288.5 982.7,289.6 983,290.8 983.3,292 983.6,293.1 983.9,294.3 984.2,295.5 984.5,296.6 984.8,297.8 985,299 985.3,300.1 985.6,301.3 985.9,302.5 986.2,303.7 986.4,304.9 986.7,306 986.9,307.2 987.2,308.4 987.5,309.6 987.7,310.8 988,312 988.2,313.2 988.5,314.4 988.7,315.6 989,316.8 989.2,318 989.4,319.2 989.7,320.4 989.9,321.6 990.2,322.7 990.4,323.9 990.6,325.1 990.9,326.3 991.1,327.5 991.3,328.8 991.6,330 991.8,331.2 992,332.4 992.3,333.6 992.5,334.8 992.7,336 992.9,337.2 993.2,338.4 993.4,339.6 993.6,340.8 993.9,342 994.1,343.2 994.4,344.4 994.6,345.6 994.8,346.8 995.1,348 995.3,349.2 995.5,350.4 995.8,351.6 996,352.8 996.3,354 996.5,355.1 996.8,356.3 997,357.5 997.2,358.7 997.5,359.9 997.7,361.1 998,362.3 998.2,363.5 998.5,364.7 998.7,365.8 998.9,367 999.2,368.2 999.4,369.4 999.7,370.6 999.9,371.7 1000.1,372.9 1000.4,374.1 1000.6,375.2 1000.9,376.4 1001.1,377.6 1001.3,378.7 1001.6,379.9 1001.8,381.1 1002.1,382.2 1002.3,383.4 1002.5,384.5 1002.8,385.7 1003,386.8 1003.2,388 1003.5,389.1 1003.7,390.2 1003.9,391.4 1004.1,392.5 1004.4,393.6 1004.6,394.8 1004.9,395.9 1005.1,397 1005.4,398.1 1005.6,399.2 1005.9,400.3 1006.2,401.4 1006.4,402.5 1006.7,403.6 1007.1,404.7 1007.4,405.8 1007.7,406.9 1008.1,408 1008.4,409.1 1008.8,410.2 1009.2,411.2 1009.7,412.3 1010.1,413.4 1010.6,414.4 1011.1,415.5 1011.6,416.6 1012.1,417.6 1012.7,418.6 1013.3,419.7 1013.9,420.7 1014.5,421.8 1015.2,422.8 1015.9,423.8 1016.7,424.8 1017.4,425.8 1018.2,426.8 1018.9,425.8 1019.6,424.8 1020.3,423.8 1021,422.7 1021.6,421.7 1022.2,420.6 1022.7,419.6 1023.3,418.5 1023.8,417.5 1024.4,416.4 1024.8,415.3 1025.3,414.2 1025.8,413.1 1026.2,412.1 1026.6,411 1027.1,409.9 1027.4,408.8 1027.8,407.7 1028.2,406.5 1028.5,405.4 1028.9,404.3 1029.2,403.2 1029.5,402.1 1029.8,400.9 1030.1,399.8 1030.3,398.7 1030.6,397.5 1030.9,396.4 1031.1,395.2 1031.4,394.1 1031.6,392.9 1031.8,391.8 1032.1,390.6 1032.3,389.4 1032.5,388.3 1032.7,387.1 1032.9,385.9 1033.1,384.8 1033.3,383.6 1033.5,382.4 1033.7,381.2 1033.9,380.1 1034.1,378.9 1034.3,377.7 1034.5,376.5 1034.7,375.3 1034.9,374.1 1035,372.9 1035.2,371.7 1035.4,370.6 1035.6,369.4 1035.8,368.2 1036,367 1036.2,365.8 1036.4,364.6 1036.6,363.4 1036.7,362.2 1036.9,361 1037.1,359.8 1037.3,358.6 1037.5,357.4 1037.7,356.2 1037.9,355 1038.1,353.8 1038.3,352.6 1038.5,351.4 1038.7,350.2 1038.8,349 1039,347.7 1039.2,346.5 1039.4,345.3 1039.6,344.2 1039.8,343 1040,341.8 1040.2,340.6 1040.4,339.4 1040.6,338.2 1040.8,337 1041,335.8 1041.3,334.6 1041.5,333.4 1041.7,332.2 1041.9,331 1042.1,329.8 1042.3,328.7 1042.5,327.5 1042.7,326.3 1043,325.1 1043.2,323.9 1043.4,322.7 1043.6,321.6 1043.9,320.4 1044.1,319.2 1044.3,318 1044.5,316.9 1044.8,315.7 1045,314.5 1045.2,313.3 1045.5,312.2 1045.7,311 1045.9,309.8 1046.2,308.6 1046.4,307.5 1046.6,306.3 1046.9,305.1 1047.1,304 1047.4,302.8 1047.6,301.6 1047.9,300.5 1048.1,299.3 1048.4,298.1 1048.6,297 1048.9,295.8 1049.1,294.6 1049.4,293.5 1049.6,292.3 1049.9,291.1 1050.1,290 1050.4,288.8 1050.6,287.6 1050.9,286.5 1051.2,285.3 1051.4,284.1 1051.7,283 1051.9,281.8 1052.2,280.7 1052.5,279.5 1052.7,278.3 1053,277.2 1053.3,276 1053.5,274.8 1053.8,273.7 1054.1,272.5 1054.3,271.3 1054.6,270.2 1054.9,269 1055.2,267.8 1055.4,266.7 1055.7,265.5 1056,264.3 1056.3,263.2 1056.5,262 1056.8,260.8 1057.1,259.7 1057.4,258.5 1057.6,257.3 1057.9,256.2 1058.2,255 1058.5,253.8 1058.8,252.7 1059.1,251.5 1059.3,250.3 1059.6,249.1 1059.9,248 1060.2,246.8 1060.5,245.6 1060.8,244.5 1061.1,243.3 1061.4,242.1 1061.7,240.9 1062,239.8 1062.3,238.6 1062.6,237.4 1062.9,236.3 1063.2,235.1 1063.5,233.9 1063.8,232.8 1064.2,231.6 1064.5,230.4 1064.8,229.3 1065.2,228.1 1065.5,226.9 1065.8,225.8 1066.2,224.6 1066.5,223.5 1066.9,222.3 1067.3,221.2 1067.6,220 1068,218.9 1068.4,217.7 1068.8,216.6 1069.1,215.4 1069.5,214.3 1069.9,213.2 1070.3,212 1070.8,210.9 1071.2,209.8 1071.6,208.6 1072,207.5 1072.5,206.4 1072.9,205.3 1073.4,204.2 1073.8,203.1 1074.3,202 1074.8,200.9 1075.3,199.8 1075.8,198.7 1076.3,197.6 1076.8,196.5 1077.3,195.4 1077.8,194.3 1078.3,193.3 1078.9,192.2 1079.4,191.1 1080,190.1 1080.6,189 1081.2,188 1081.7,186.9 1082.3,185.9 1083,184.8 1083.6,183.8 1084.2,182.8 1084.9,181.8 1085.5,180.7 1086.2,179.7 1086.8,178.7 1087.5,177.7 1088.2,176.7 1088.9,175.8 1089.7,174.8 1090.4,173.8 1091.1,172.8 1091.9,171.9 1092.7,170.9 1093.5,170 1094.3,169.1 1095.1,168.2 1095.9,167.4 1096.7,166.5 1097.6,165.8 1098.5,165 1099.4,164.3 1100.3,163.7 1101.3,163.1 1102.2,162.5 1103.2,162.1 1104.2,161.6 1105.2,161.3 1106.3,161 1107.4,160.8 1108.5,160.7 1109.6,160.6 1110.7,160.6 1111.9,160.7 1113.1,160.9 1114.2,161.1 1115.4,161.4 1116.6,161.7 1117.8,162.1 1119,162.5 1120.1,163 1121.3,163.5 1122.4,164.1 1123.5,164.7 1124.6,165.4 1125.7,166.1 1126.7,166.8 1127.7,167.5 1128.7,168.3 1129.7,169 1130.6,169.9 1131.5,170.7 1132.3,171.5 1133.1,172.4 1133.9,173.3 1134.7,174.2 1135.5,175.1 1136.2,176.1 1136.9,177.1 1137.6,178 1138.3,179 1138.9,180 1139.6,181.1 1140.2,182.1 1140.8,183.1 1141.4,184.2 1141.9,185.3 1142.5,186.3 1143.1,187.4 1143.6,188.5 1144.1,189.6 1144.7,190.7 1145.2,191.8 1145.7,192.9 1146.2,194 1146.7,195.2 1147.2,196.3 1147.7,197.4 1148.2,198.5 1148.7,199.6 1149.2,200.7 1149.7,201.8 1150.2,202.9 1150.8,204 1151.3,205.1 1151.8,206.2 1152.4,207.3 1152.9,208.4 1153.5,209.4 1154,210.5 1154.6,211.5 1155.1,212.6 1155.7,213.6 1156.2,214.7 1156.8,215.7 1157.3,216.8 1157.8,217.8 1158.4,218.8 1158.9,219.9 1159.4,220.9 1159.9,222 1160.4,223 1160.9,224 1161.4,225.1 1161.9,226.1 1162.3,227.2 1162.8,228.2 1163.2,229.3 1163.6,230.4 1164,231.4 1164.4,232.5 1164.8,233.6 1165.2,234.7 1165.6,235.8 1166,236.9 1166.4,238 1166.8,239.1 1167.2,240.3 1167.6,241.4 1168,242.5 1168.4,243.7 1168.8,244.9 1169.2,246.1 1169.7,247.3 1170.1,248.5 1170.6,249.7 1171,250.9 1171.5,252.1 1172,253.3 1172.5,254.5 1173.1,255.7 1173.6,256.9 1174.1,258.1 1174.7,259.3 1175.3,260.4 1175.9,261.6 1176.5,262.7 1177.1,263.8 1177.8,264.9 1178.4,265.9 1179.1,266.9 1179.8,267.9 1180.5,268.9 1181.3,269.8 1182,270.7 1182.8,271.5 1183.6,272.3 1184.4,273.1 1185.2,273.8 1186.1,274.5 1187,275.1 1187.9,275.7 1188.8,276.2 1189.7,276.6 1190.7,277 1191.7,277.3 1192.7,277.6 1193.8,277.8 1194.9,278 1195.9,278 1197,278.1 1198.2,278 1199.3,277.9 1200.4,277.8 1201.6,277.6 1202.7,277.3 1203.9,277 1205,276.7 1206.2,276.3 1207.3,275.9 1208.5,275.4 1209.6,274.9 1210.7,274.3 1211.8,273.7 1212.9,273.1 1213.9,272.5 1215,271.8 1216,271.1 1216.9,270.4 1217.9,269.7 1218.8,268.9 1219.7,268.1 1220.6,267.3 1221.5,266.5 1222.4,265.6 1223.2,264.8 1224.1,263.9 1224.9,263.1 1225.8,262.2 1226.6,261.3 1227.4,260.5 1228.3,259.6 1229.1,258.7 1230,257.9 1230.8,257 1231.7,256.2 1232.5,255.3 1233.4,254.5 1234.3,253.7 1235.2,252.8 1236.1,252 1237,251.2 1237.9,250.4 1238.8,249.6 1239.7,248.9 1240.7,248.1 1241.6,247.4 1242.6,246.6 1243.5,245.9 1244.5,245.2 1245.5,244.5 1246.4,243.8 1247.4,243.1 1248.4,242.5 1249.5,241.8 1250.5,241.2 1251.5,240.6 1252.5,240 1253.6,239.4 1254.6,238.8 1255.7,238.3 1256.8,237.8 1257.9,237.3 1258.9,236.8 1260,236.3 1261.2,235.9 1262.3,235.5 1263.4,235 1264.5,234.7 1265.7,234.3 1266.8,234 1268,233.6 1269.2,233.4 1270.3,233.1 1271.5,232.8 1272.7,232.6 1273.9,232.4 1275.1,232.2 1276.3,232.1 1277.5,231.9 1278.7,231.8 1280,231.8 1281.2,231.7 1282.4,231.7 1283.6,231.6 1284.8,231.7 1286,231.7 1287.2,231.8 1288.4,231.8 1289.6,232 1290.8,232.1 1292,232.3 1293.2,232.4 1294.4,232.7 1295.5,232.9 1296.7,233.2 1297.9,233.4 1299,233.8 1300.1,234.1 1301.3,234.5 1302.4,234.9 1303.5,235.3 1304.5,235.7 1305.6,236.2 1306.7,236.7 1307.7,237.2 1308.7,237.8 1309.7,238.4 1310.7,239 1311.7,239.6 1312.7,240.2 1313.6,240.9 1314.6,241.6 1315.5,242.4 1316.4,243.1 1317.3,243.9 1318.1,244.7 1319,245.5 1319.8,246.3 1320.7,247.2 1321.5,248 1322.3,248.9 1323.1,249.8 1323.9,250.7 1324.7,251.6 1325.4,252.6 1326.2,253.5 1326.9,254.5 1327.7,255.5 1328.4,256.4 1329.1,257.4 1329.8,258.4 1330.5,259.5 1331.2,260.5 1331.9,261.5 1332.6,262.5 1333.3,263.6 1333.9,264.6 1334.6,265.7 1335.3,266.7 1335.9,267.8 1336.5,268.8 1337.2,269.9 1337.8,270.9 1338.5,272 1339.1,273 1339.7,274.1 1340.3,275.1 1340.9,276.2 1341.5,277.2 1342.1,278.3 1342.7,279.3 1343.3,280.4 1343.9,281.4 1344.5,282.5 1345.1,283.5 1345.7,284.6 1346.3,285.6 1346.9,286.7 1347.5,287.7 1348,288.8 1348.6,289.8 1349.2,290.9 1349.7,291.9 1350.3,293 1350.9,294 1351.4,295 1352,296.1 1352.5,297.1 1353.1,298.2 1353.6,299.2 1354.2,300.3 1354.7,301.3 1355.2,302.4 1355.8,303.4 1356.3,304.5 1356.9,305.5 1357.4,306.6 1357.9,307.6 1358.5,308.7 1359,309.8 1359.5,310.8 1360,311.9 1360.6,312.9 1361.1,314 1361.6,315.1 1362.1,316.1 1362.6,317.2 1363.2,318.3 1363.7,319.3 1364.2,320.4 1364.7,321.5 1365.2,322.5 1365.7,323.6 1366.2,324.7 1366.8,325.8 1367.3,326.9 1367.8,327.9 1368.3,329 1368.8,330.1 1369.3,331.2 1369.8,332.3 1370.3,333.4 1370.8,334.5 1371.3,335.6 1371.8,336.7 1372.3,337.8 1372.8,338.9 1373.3,340 1373.8,341.1 1374.3,342.2 1374.8,343.3 1375.3,344.5 1375.8,345.6 1376.3,346.7 1376.8,347.8 1377.3,349 1377.8,350.1 1378.3,351.2 1378.8,352.4 1379.3,353.5 1379.9,354.6 1380.4,355.8 1380.9,356.9 1381.4,358 1382,359.1 1382.5,360.2 1383.1,361.3 1383.6,362.4 1384.2,363.5 1384.8,364.6 1385.4,365.7 1386,366.7 1386.6,367.8 1387.2,368.8 1387.8,369.8 1388.5,370.8 1389.1,371.8 1389.8,372.8 1390.5,373.8 1391.2,374.7 1391.9,375.7 1392.6,376.6 1393.4,377.5 1394.2,378.3 1394.9,379.2 1395.8,380 1396.6,380.8 1397.4,381.6 1398.3,382.4 1399.1,383.1 1400,383.8 1401,384.5 1401.9,385.1 1402.8,385.6 1403.8,386.1 1404.7,386.5 1405.7,386.7 1406.7,386.9 1407.6,386.9 1408.6,386.8 1409.6,386.6 1410.6,386.2 1411.6,385.7 1412.5,385.2 1413.5,384.6 1414.4,383.9 1415.4,383.1 1416.3,382.3 1417.2,381.5 1418.1,380.6 1418.9,379.7 1419.8,378.8 1420.6,377.9 1421.4,377 1422.2,376 1423,375.1 1423.8,374.1 1424.5,373.1 1425.3,372.1 1426,371.1 1426.7,370.1 1427.4,369 1428,368 1428.7,366.9 1429.3,365.9 1430,364.8 1430.6,363.8 1431.2,362.7 1431.8,361.6 1432.3,360.5 1432.9,359.4 1433.5,358.3 1434,357.2 1434.6,356.1 1435.1,355 1435.6,353.9 1436.2,352.8 1436.7,351.7 1437.2,350.6 1437.7,349.5 1438.2,348.4 1438.8,347.4 1439.3,346.3 1439.8,345.2 1440.4,344.1 1440.9,343 1441.5,341.9 1442,340.9 1442.6,339.8 1443.2,338.8 1443.8,337.7 1444.4,336.7 1445,335.7 1445.6,334.7 1446.3,333.7 1446.9,332.7 1447.6,331.7 1448.3,330.7 1449,329.8 1449.8,328.8 1450.5,327.9 1451.3,327 1452.1,326.1 1453,325.2 1453.8,324.4 1454.7,323.5 1455.6,322.7 1456.6,321.9 1457.5,321.1 1458.5,320.4 1459.5,319.7 1460.5,319 1461.5,318.3 1462.5,317.6 1463.5,317 1464.6,316.5 1465.7,315.9 1466.7,315.4 1467.8,314.9 1468.9,314.5 1470,314.1 1471.1,313.7 1472.2,313.4 1473.3,313.2 1474.4,312.9 1475.5,312.7 1476.5,312.6 1477.6,312.5 1478.7,312.5 1479.8,312.5 1480.9,312.6 1481.9,312.7 1483,312.9 1484,313.1 1485.1,313.4 1486.1,313.7 1487.1,314.1 1488.1,314.6 1489.1,315.2 1490,315.7 1491,316.4 1491.9,317.1 1492.8,317.9 1493.7,318.7 1494.6,319.6 1495.4,320.5 1496.3,321.4 1497.1,322.4 1498,323.3 1498.8,324.4 1499.6,325.4 1500.4,326.4 1501.2,327.5 1502,328.6 1502.8,329.6 1503.6,330.7 1504.4,331.8 1505.2,332.8 1506,333.9 1506.8,334.9 1507.6,335.9 1508.4,336.9 1509.2,337.8 1510,338.8 1510.8,339.7 1511.6,340.6 1512.4,341.5 1513.2,342.4 1514,343.2 1514.9,344.1 1515.7,344.9 1516.6,345.7 1517.4,346.5 1518.3,347.3 1519.2,348.1 1520.1,348.9 1521.1,349.6 1522,350.4 1522.9,351.1 1523.9,351.8 1524.9,352.4 1525.9,353.1 1526.9,353.7 1527.9,354.3 1528.9,354.8 1529.9,355.3 1530.9,355.7 1532,356.1 1533,356.4 1534,356.6 1535.1,356.8 1536.1,356.9 1537.2,356.9 1538.2,356.9 1539.2,356.8 1540.3,356.6 1541.3,356.3 1542.3,355.9 1543.4,355.4 1544.4,354.9 1545.4,354.3 1546.4,353.7 1547.4,353 1548.4,352.3 1549.4,351.5 1550.3,350.7 1551.3,349.8 1552.2,348.9 1553.2,348 1554.1,347.1 1555,346.2 1555.9,345.3 1556.8,344.3 1557.7,343.4 1558.6,342.5 1559.5,341.5 1560.3,340.6 1561.2,339.7 1562,338.7 1562.8,337.8 1563.6,336.9 1564.4,336 1565.2,335.1 1566,334.1 1566.8,333.2 1567.6,332.3 1568.3,331.4 1569.1,330.5 1569.9,329.6 1570.6,328.7 1571.4,327.8 1572.1,326.9 1572.9,325.9 1573.6,325 1574.4,324.1 1575.1,323.2 1575.9,322.3 1576.6,321.4 1577.3,320.5 1578.1,319.6 1578.8,318.7 1579.6,317.8 1580.3,316.9 1581.1,316 1581.9,315.2 1582.6,314.3 1583.4,313.4 1584.2,312.5 1585,311.6 1585.8,310.7 1586.6,309.8 1587.4,308.9 1588.2,308 1589,307.1 1589.8,306.3 1590.7,305.4 1591.5,304.5 1592.3,303.7 1593.2,302.8 1594.1,301.9 1594.9,301.1 1595.8,300.3 1596.7,299.4 1597.6,298.6 1598.5,297.8 1599.4,297 1600.4,296.2 1601.3,295.5 1602.2,294.7 1603.2,294 1604.2,293.2 1605.1,292.5 1606.1,291.8 1607.1,291.1 1608.1,290.5 1609.1,289.8 1610.1,289.2 1611.2,288.6 1612.2,288 1613.3,287.4 1614.3,286.8 1615.4,286.3 1616.5,285.8 1617.6,285.3 1618.7,284.8 1619.8,284.4 1620.9,284 1622,283.6 1623.2,283.2 1624.3,282.8 1625.5,282.5 1626.6,282.2 1627.8,281.9 1629,281.6 1630.1,281.4 1631.3,281.2 1632.5,281 1633.7,280.8 1634.9,280.7 1636,280.5 1637.2,280.4 1638.4,280.3 1639.6,280.3 1640.8,280.3 1642,280.2 1643.2,280.3 1644.4,280.3 1645.6,280.3 1646.8,280.4 1648,280.5 1649.1,280.7 1650.3,280.8 1651.5,281 1652.7,281.2 1653.8,281.4 1655,281.7 1656.1,281.9 1657.3,282.2 1658.4,282.6 1659.6,282.9 1660.7,283.3 1661.8,283.7 1662.9,284.1 1664,284.5 1665.1,285 1666.2,285.4 1667.3,285.9 1668.4,286.5 1669.4,287 1670.5,287.6 1671.5,288.1 1672.6,288.7 1673.6,289.3 1674.6,290 1675.7,290.6 1676.7,291.3 1677.7,291.9 1678.7,292.6 1679.6,293.3 1680.6,294 1681.6,294.8 1682.6,295.5 1683.5,296.3 1684.5,297 1685.4,297.8 1686.3,298.6 1687.2,299.4 1688.1,300.2 1689,301 1689.9,301.9 1690.8,302.7 1691.7,303.5 1692.6,304.4 1693.4,305.3 1694.3,306.1 1695.1,307 1695.9,307.9 1696.8,308.8 1697.6,309.6 1698.4,310.5 1699.2,311.4 1700,312.3 1700.8,313.2 1701.5,314.1 1702.3,315.1 1703.1,316 1703.8,316.9 1704.6,317.8 1705.3,318.8 1706,319.7 1706.7,320.7 1707.5,321.6 1708.2,322.6 1708.9,323.5 1709.6,324.5 1710.3,325.5 1710.9,326.4 1711.6,327.4 1712.3,328.4 1713,329.4 1713.6,330.4 1714.3,331.4 1714.9,332.4 1715.6,333.4 1716.2,334.4 1716.8,335.4 1717.5,336.4 1718.1,337.4 1718.7,338.4 1719.3,339.4 1719.9,340.5 1720.6,341.5 1721.2,342.5 1721.8,343.5 1722.4,344.6 1722.9,345.6 1723.5,346.7 1724.1,347.7 1724.7,348.8 1725.3,349.8 1725.9,350.9 1726.4,351.9 1727,353 1727.6,354 1728.1,355.1 1728.7,356.2 1729.2,357.2 1729.8,358.3 1730.3,359.4 1730.9,360.5 1731.4,361.5 1731.9,362.6 1732.5,363.7 1733,364.8 1733.5,365.9 1734.1,367 1734.6,368.1 1735.1,369.1 1735.6,370.2 1736.1,371.3 1736.6,372.4 1737.2,373.5 1737.7,374.6 1738.2,375.7 1738.7,376.8 1739.2,377.9 1739.7,379 1740.1,380.1 1740.6,381.2 1741.1,382.3 1741.6,383.4 1742.1,384.6 1742.6,385.7 1743,386.8 1743.5,387.9 1744,389 1744.5,390.1 1744.9,391.2 1745.4,392.3 1745.9,393.4 1746.3,394.5 1746.8,395.7 1747.3,396.8 1747.7,397.9 1748.2,399 1748.6,400.1 1749.1,401.2 1749.6,402.3 1750,403.4 1750.5,404.5 1750.9,405.7 1751.4,406.8 1751.8,407.9 1752.3,409 1752.8,410.1 1753.2,411.2 1753.7,412.3 1754.1,413.4 1754.6,414.5 1755,415.6 1755.5,416.7 1756,417.8 1756.4,418.9 1756.9,420 1757.3,421.1 1757.8,422.2 1758.3,423.3 1758.7,424.4 1759.2,425.5 1759.7,426.6 1760.1,427.6 1760.6,428.7 1761.1,429.8 1761.6,430.9 1762,432 1762.5,433.1 1763,434.1 1763.5,435.2 1764,436.3 1764.5,437.4 1765,438.5 1765.5,439.5 1766,440.6 1766.5,441.7 1767,442.8 1767.5,443.8 1768,444.9 1768.5,446 1769,447.1 1769.6,448.1 1770.1,449.2 1770.6,450.3 1771.2,451.4 1771.7,452.5 1772.2,453.5 1772.8,454.6 1773.3,455.7 1773.9,456.8 1774.5,457.9 1775,458.9 1775.6,460 1776.2,461.1 1776.8,462.2 1777.4,463.3 1777.9,464.4 1778.5,465.4 1779.2,466.5 1779.8,467.6 1780.4,468.7 1781,469.8 1781.7,470.8 1782.3,471.9 1783,472.9 1783.6,474 1784.3,475 1785,476 1785.7,477 1786.4,478 1787.1,479 1787.8,480 1788.6,480.9 1789.3,481.8 1790.1,482.7 1790.9,483.6 1791.7,484.5 1792.5,485.4 1793.3,486.2 1794.2,487 1795.1,487.8 1795.9,488.5 1796.8,489.3 1797.8,490 1798.7,490.7 1799.6,491.3 1800.6,491.9 1801.6,492.5 1802.6,493.1 1803.6,493.6 1804.7,494.1 1805.8,494.5 1806.9,494.9 1808,495.3 1809.1,495.7 1810.2,496 1811.4,496.3 1812.5,496.5 1813.7,496.7 1814.9,496.9 1816.1,497 1817.3,497.1 1818.5,497.2 1819.7,497.2 1820.9,497.3 1822.2,497.2 1823.4,497.2 1824.6,497.1 1825.8,496.9 1827,496.8 1828.2,496.6 1829.4,496.3 1830.6,496.1 1831.8,495.7 1833,495.4 1834.1,495 1835.3,494.6 1836.4,494.2 1837.5,493.7 1838.6,493.2 1839.7,492.7 1840.8,492.1 1841.8,491.5"/>
<path stroke="#ff0000" stroke-width="7.8" d="M246.1,45.6 247.3,45.6 248.5,45.6 249.7,45.6 250.9,45.6 252.1,45.6 253.3,45.6 254.5,45.6 255.7,45.6 256.9,45.6 258.1,45.6 259.3,45.6 260.5,45.6 261.7,45.6 262.9,45.6 264.1,45.6 265.3,45.6 266.5,45.6 267.7,45.6 268.9,45.6 270.1,45.6 271.3,45.6 272.5,45.6 273.7,45.6 274.9,45.6 276.1,45.6 277.3,45.6 278.5,45.6 279.7,45.6 280.9,45.6 282.1,45.7 283.3,45.7 284.5,45.7 285.7,45.7 286.9,45.7 288.1,45.7 289.3,45.7 290.5,45.7 291.7,45.7 292.9,45.7 294.1,45.7 295.3,45.7 296.5,45.7 297.7,45.7 298.9,45.7 300.1,45.7 301.3,45.7 302.5,45.7 303.7,45.7 304.9,45.7 306.1,45.7 307.3,45.7 308.5,45.7 309.7,45.7 310.9,45.7 312.1,45.7 313.3,45.8 314.5,45.8 315.7,45.8 316.9,45.8 318.1,45.8 319.3,45.8 320.5,45.8 321.7,45.8 322.9,45.8 324.1,45.8 325.3,45.8 326.5,45.8 327.7,45.8 328.9,45.8 330.1,45.8 331.3,45.9 332.5,45.9 333.7,45.9 334.9,45.9 336.1,45.9 337.3,45.9 338.5,45.9 339.7,45.9 340.9,45.9 342.1,45.9 343.3,45.9 344.5,46 345.7,46 346.9,46 348.1,46 349.3,46 350.5,46 351.7,46 352.9,46 354.1,46 355.3,46.1 356.5,46.1 357.7,46.1 358.9,46.1 360.1,46.1 361.3,46.1 362.5,46.1 363.7,46.1 364.9,46.2 366.1,46.2 367.3,46.2 368.5,46.2 369.7,46.2 370.9,46.3 372.1,46.3 373.3,46.3 374.5,46.3 375.7,46.3 376.9,46.3 378.1,46.4 379.3,46.4 380.5,46.4 381.7,46.4 382.9,46.5 384.1,46.5 385.3,46.5 386.5,46.5 387.7,46.5 388.9,46.6 390.1,46.6 391.3,46.6 392.5,46.6 393.7,46.7 394.9,46.7 396.1,46.7 397.3,46.7 398.5,46.8 399.7,46.8 400.9,46.8 402.1,46.8 403.3,46.9 404.5,46.9 405.7,46.9 406.9,47 408.1,47 409.3,47 410.5,47.1 411.7,47.1 412.9,47.2 414.1,47.2 415.3,47.2 416.5,47.3 417.7,47.3 418.9,47.4 420.1,47.4 421.3,47.4 422.5,47.5 423.7,47.5 424.9,47.6 426.1,47.6 427.3,47.7 428.5,47.7 429.7,47.8 430.9,47.8 432.1,47.9 433.3,47.9 434.5,48 435.7,48.1 436.9,48.1 438.1,48.2 439.3,48.3 440.5,48.3 441.7,48.4 442.9,48.5 444.1,48.5 445.3,48.6 446.5,48.7 447.6,48.8 448.8,48.9 450,48.9 451.2,49 452.4,49.1 453.6,49.2 454.8,49.3 456,49.4 457.2,49.5 458.4,49.6 459.6,49.6 460.8,49.7 462,49.8 463.2,49.9 464.4,50 465.6,50.1 466.8,50.2 468,50.4 469.2,50.5 470.4,50.6 471.6,50.7 472.8,50.8 474,51 475.1,51.1 476.3,51.3 477.5,51.4 478.7,51.6 479.9,51.8 481.1,52 482.3,52.2 483.4,52.5 484.6,52.7 485.8,53 487,53.3 488.1,53.6 489.3,53.9 490.4,54.2 491.6,54.5 492.7,54.9 493.9,55.2 495.1,55.5 496.2,55.9 497.4,56.2 498.5,56.6 499.7,56.9 500.8,57.2 502,57.6 503.1,57.9 504.3,58.3 505.4,58.7 506.5,59 507.7,59.4 508.8,59.8 509.9,60.3 511.1,60.7 512.2,61.1 513.3,61.6 514.4,62.1 515.5,62.6 516.6,63.1 517.7,63.6 518.7,64.1 519.8,64.7 520.9,65.3 521.9,65.8 523,66.4 524,67 525,67.6 525.3,67.8 526.3,68.4 527.4,69.1 528.4,69.7 529.4,70.4 530.4,71.1 531.4,71.8 532.3,72.5 533.3,73.2 534.2,74 535.1,74.7 536.1,75.5 537,76.3 537.9,77.1 538.8,77.9 539.6,78.7 540.5,79.5 541.3,80.4 542.2,81.2 543,82.1 543.8,83 544.6,83.9 545.4,84.7 546.2,85.7 547,86.6 547.8,87.5 548.6,88.4 549.3,89.4 550.1,90.3 550.8,91.3 551.5,92.2 552.2,93.2 553,94.2 553.7,95.1 554.4,96.1 555,97.1 555.7,98.1 556.4,99.1 557.1,100.1 557.7,101.1 558.4,102.1 559,103.2 559.7,104.2 560.3,105.2 560.9,106.2 561.6,107.3 562.2,108.3 562.8,109.3 563.4,110.3 564,111.4 564.6,112.4 565.2,113.4 565.8,114.5 566.3,115.5 566.9,116.6 567.5,117.6 568.1,118.7 568.6,119.7 569.2,120.8 569.8,121.8 570.3,122.9 570.9,123.9 571.4,125 572,126 572.5,127.1 573,128.1 573.6,129.2 574.1,130.3 574.7,131.3 575.2,132.4 575.7,133.5 576.2,134.5 576.8,135.6 577.3,136.7 577.8,137.8 578.4,138.8 578.9,139.9 579.4,141 579.9,142.1 580.5,143.1 581,144.2 581.5,145.3 582,146.4 582.6,147.5 583.1,148.5 583.6,149.6 584.1,150.7 584.7,151.8 585.2,152.9 585.7,154 586.3,155.1 586.8,156.2 587.3,157.3 587.9,158.4 588.4,159.4 589,160.5 589.5,161.6 590,162.7 590.6,163.8 591.1,164.9 591.7,166 592.2,167.1 592.7,168.2 593.3,169.3 593.8,170.4 594.3,171.5 594.9,172.6 595.4,173.7 595.9,174.8 596.5,175.9 597,177 597.5,178.1 598,179.2 598.5,180.3 599.1,181.4 599.6,182.5 600.1,183.5 600.6,184.6 601.1,185.7 601.6,186.8 602.1,187.9 602.6,189 603,190.1 603.5,191.2 604,192.3 604.5,193.3 604.9,194.4 605.4,195.5 605.8,196.6 606.3,197.7 606.7,198.7 607.2,199.8 607.6,200.9 608,202 608.4,203 608.9,204.1 609.3,205.2 609.7,206.2 610.1,207.3 610.5,208.4 610.9,209.5 611.3,210.6 611.7,211.6 612.1,212.7 612.5,213.8 612.9,214.9 613.3,216 613.8,217.1 614.2,218.2 614.6,219.3 615,220.5 615.5,221.6 615.9,222.7 616.4,223.9 616.8,225 617.3,226.2 617.8,227.4 618.3,228.6 618.8,229.7 619.3,230.9 619.8,232.1 620.4,233.3 620.9,234.5 621.5,235.7 622.1,236.8 622.7,238 623.3,239.1 623.9,240.3 624.6,241.4 625.3,242.4 625.9,243.5 626.7,244.5 627.4,245.5 628.1,246.5 628.9,247.4 629.7,248.3 630.5,249.2 631.4,250 632.2,250.7 633.1,251.4 634,252 634.9,252.5 635.8,253 636.7,253.4 637.6,253.6 638.5,253.8 639.4,253.9 640.3,253.8 641.2,253.7 642.1,253.5 643.1,253.1 643.9,252.7 644.8,252.2 645.7,251.6 646.6,251 647.4,250.3 648.2,249.5 649,248.7 649.8,247.9 650.6,247 651.3,246.1 652.1,245.2 652.8,244.3 653.5,243.3 654.1,242.3 654.8,241.3 655.4,240.2 656.1,239.1 656.7,238.1 657.3,237 657.8,235.9 658.4,234.7 659,233.6 659.5,232.4 660,231.3 660.5,230.1 661.1,229 661.6,227.8 662,226.6 662.5,225.5 663,224.3 663.5,223.2 663.9,222 664.4,220.8 664.9,219.7 665.3,218.5 665.7,217.4 666.2,216.2 666.6,215.1 667,213.9 667.5,212.8 667.9,211.6 668.3,210.5 668.7,209.3 669.2,208.2 669.6,207.1 670,205.9 670.4,204.8 670.9,203.7 671.3,202.6 671.7,201.4 672.1,200.3 672.6,199.2 673,198.1 673.4,197 673.9,195.9 674.3,194.8 674.8,193.7 675.3,192.6 675.7,191.5 676.2,190.5 676.7,189.4 677.2,188.3 677.7,187.3 678.2,186.2 678.7,185.1 679.2,184.1 679.7,183 680.3,182 680.8,181 681.4,179.9 682,178.9 682.6,177.9 683.2,176.9 683.8,175.9 684.4,174.9 685,173.9 685.7,172.9 686.3,171.9 687,171 687.7,170 688.4,169 689.1,168.1 689.8,167.1 690.5,166.2 691.2,165.2 692,164.3 692.7,163.4 693.5,162.4 694.2,161.5 695,160.6 695.8,159.7 696.6,158.8 697.4,157.9 698.2,157 699,156.1 699.8,155.2 700.6,154.3 701.5,153.4 702.3,152.6 703.2,151.7 704,150.8 704.9,150 705.8,149.1 706.6,148.3 707.5,147.4 708.4,146.6 709.3,145.8 710.2,144.9 711.1,144.1 712,143.3 712.9,142.5 713.8,141.7 714.7,140.9 715.6,140.1 716.5,139.3 717.5,138.5 718.4,137.7 719.3,136.9 720.3,136.1 721.2,135.3 722.2,134.6 723.1,133.8 724.1,133.1 725,132.3 726,131.6 727,130.9 727.9,130.1 728.9,129.4 729.9,128.7 730.9,128 731.9,127.3 732.9,126.6 733.9,126 734.9,125.3 735.9,124.7 736.9,124 737.9,123.4 738.9,122.8 740,122.1 741,121.6 742,121 743.1,120.4 744.1,119.8 745.2,119.3 746.3,118.7 747.3,118.2 748.4,117.7 749.5,117.2 750.6,116.7 751.7,116.2 752.8,115.8 753.9,115.4 755,114.9 756.1,114.5 757.2,114.1 758.3,113.7 759.5,113.4 760.6,113 761.8,112.7 762.9,112.4 764.1,112.1 765.2,111.8 766.4,111.5 767.6,111.3 768.7,111 769.9,110.8 771.1,110.6 772.3,110.4 773.4,110.3 774.6,110.1 775.8,110 777,109.9 778.2,109.8 779.4,109.7 780.6,109.7 781.8,109.6 783,109.6 784.2,109.6 785.4,109.6 786.5,109.6 787.7,109.7 788.9,109.8 790.1,109.9 791.3,110 792.5,110.1 793.6,110.3 794.8,110.4 796,110.6 797.2,110.8 798.3,111 799.5,111.3 800.6,111.6 801.8,111.8 802.9,112.2 804,112.5 805.2,112.8 806.3,113.2 807.4,113.6 808.5,114 809.6,114.4 810.7,114.9 811.8,115.4 812.9,115.9 813.9,116.4 815,116.9 816.1,117.5 817.1,118 818.1,118.6 819.2,119.2 820.2,119.8 821.2,120.5 822.2,121.1 823.2,121.8 824.2,122.5 825.2,123.2 826.2,123.9 827.2,124.6 828.1,125.3 829.1,126.1 830.1,126.8 831,127.6 831.9,128.4 832.9,129.2 833.8,130 834.7,130.8 835.7,131.6 836.6,132.4 837.5,133.3 838.4,134.1 839.3,135 840.2,135.8 841,136.7 841.9,137.5 842.8,138.4 843.7,139.3 844.5,140.2 845.4,141.1 846.2,141.9 847.1,142.8 847.9,143.7 848.7,144.6 849.6,145.5 850.4,146.4 851.2,147.3 852,148.2 852.8,149.1 853.6,150 854.4,150.9 855.2,151.8 856,152.7 856.8,153.5 857.6,154.4 858.4,155.3 859.2,156.2 860,157.1 860.7,158 861.5,158.9 862.3,159.8 863.1,160.7 863.8,161.6 864.6,162.5 865.4,163.4 866.1,164.3 866.9,165.2 867.6,166.1 868.4,167 869.2,167.8 869.9,168.7 870.7,169.6 871.5,170.5 872.2,171.4 873,172.3 873.7,173.2 874.5,174.1 875.3,175 876.1,175.9 876.8,176.8 877.6,177.7 878.4,178.6 879.2,179.5 879.9,180.4 880.7,181.3 881.5,182.2 882.3,183.1 883.1,184 883.9,185 884.7,185.9 885.5,186.8 886.3,187.7 887.1,188.6 887.9,189.5 888.8,190.4 889.6,191.3 890.4,192.2 891.3,193.1 892.1,194 893,194.8 893.8,195.7 894.7,196.6 895.6,197.5 896.4,198.3 897.3,199.2 898.2,200 899.1,200.8 900,201.6 900.9,202.4 901.8,203.2 902.7,204 903.7,204.8 904.6,205.5 905.6,206.3 906.5,207 907.5,207.7 908.5,208.4 909.4,209.1 910.4,209.7 911.4,210.4 912.5,211 913.5,211.6 914.5,212.2 915.5,212.7 916.6,213.3 917.7,213.8 918.7,214.3 919.8,214.7 920.9,215.2 922,215.6 923.1,216 924.2,216.3 925.4,216.7 926.5,217 927.7,217.3 928.8,217.5 930,217.8 931.2,218 932.4,218.2 933.6,218.5 934.7,218.7 935.9,218.9 937.1,219.1 938.3,219.3 939.5,219.5 940.7,219.7 941.9,219.9 943.1,220.1 944.2,220.4 945.4,220.7 946.5,220.9 947.7,221.2 948.8,221.6 949.9,221.9 951.1,222.3 952.2,222.8 953.2,223.2 954.3,223.7 955.3,224.2 956.4,224.8 957.4,225.3 958.4,225.9 959.5,226.6 960.5,227.2 961.5,227.8 962.5,228.5 963.5,229.2 964.5,229.9 965.4,230.6 966.4,231.3 967.4,232 968.4,232.7 969.4,233.4 970.5,234.1 971.5,234.8 972.5,235.4 973.5,236.1 974.6,236.8 975.6,237.4 976.7,238.1 977.8,238.7 978.8,239.3 979.9,239.9 981,240.5 982.1,241 983.2,241.6 984.3,242.1 985.4,242.7 986.6,243.2 987.7,243.7 988.8,244.1 989.9,244.6 991.1,245 992.2,245.4 993.4,245.8 994.5,246.2 995.7,246.6 996.8,246.9 998,247.3 999.1,247.6 1000.3,247.8 1001.4,248.1 1002.6,248.3 1003.8,248.6 1004.9,248.7 1006.1,248.9 1007.2,249.1 1008.4,249.2 1009.5,249.3 1010.7,249.4 1011.8,249.4 1013,249.4 1014.1,249.4 1015.3,249.4 1016.4,249.3 1017.5,249.2 1018.7,249.1 1019.8,249 1020.9,248.8 1022,248.6 1023.1,248.4 1024.3,248.1 1025.4,247.8 1026.5,247.5 1027.5,247.2 1028.6,246.8 1029.7,246.4 1030.8,246 1031.9,245.6 1032.9,245.2 1034,244.7 1035.1,244.2 1036.1,243.7 1037.2,243.2 1038.2,242.6 1039.3,242 1040.3,241.5 1041.4,240.9 1042.4,240.3 1043.5,239.6 1044.5,239 1045.5,238.3 1046.6,237.7 1047.6,237 1048.6,236.3 1049.7,235.6 1050.7,234.9 1051.7,234.2 1052.7,233.5 1053.8,232.8 1054.8,232.1 1055.8,231.3 1056.8,230.6 1057.8,229.8 1058.8,229.1 1059.9,228.4 1060.9,227.6 1061.9,226.9 1062.9,226.1 1063.9,225.4 1064.9,224.6 1065.9,223.9 1067,223.2 1068,222.4 1069,221.7 1070,221 1071,220.3 1072,219.5 1073.1,218.8 1074.1,218.1 1075.1,217.5 1076.1,216.8 1077.1,216.1 1078.2,215.4 1079.2,214.8 1080.2,214.1 1081.3,213.5 1082.3,212.9 1083.3,212.3 1084.4,211.7 1085.4,211.1 1086.5,210.5 1087.5,209.9 1088.6,209.4 1089.6,208.8 1090.7,208.3 1091.7,207.8 1092.8,207.3 1093.8,206.9 1094.9,206.4 1096,206 1097.1,205.5 1098.2,205.1 1099.2,204.8 1100.3,204.4 1101.4,204 1102.5,203.7 1103.6,203.4 1104.7,203.1 1105.8,202.9 1107,202.6 1108.1,202.4 1109.2,202.2 1110.4,202 1111.5,201.9 1112.6,201.8 1113.8,201.7 1115,201.6 1116.1,201.5 1117.3,201.5 1118.4,201.5 1119.6,201.5 1120.8,201.6 1122,201.6 1123.1,201.7 1124.3,201.9 1125.5,202 1126.7,202.2 1127.8,202.3 1129,202.6 1130.2,202.8 1131.4,203 1132.5,203.3 1133.7,203.6 1134.8,203.9 1136,204.3 1137.2,204.7 1138.3,205 1139.4,205.5 1140.6,205.9 1141.7,206.3 1142.8,206.8 1143.9,207.3 1145,207.8 1146.1,208.4 1147.1,208.9 1148.2,209.5 1149.3,210.1 1150.3,210.8 1151.3,211.4 1152.3,212.1 1153.3,212.8 1154.3,213.5 1155.3,214.2 1156.3,214.9 1157.2,215.7 1158.1,216.5 1159,217.3 1159.9,218.1 1160.8,219 1161.7,219.8 1162.5,220.7 1163.3,221.6 1164.1,222.5 1164.9,223.5 1165.7,224.4 1166.5,225.4 1167.2,226.3 1167.9,227.3 1168.7,228.3 1169.4,229.3 1170.1,230.3 1170.8,231.3 1171.5,232.3 1172.2,233.3 1172.8,234.3 1173.5,235.4 1174.2,236.4 1174.8,237.4 1175.5,238.4 1176.1,239.5 1176.8,240.5 1177.4,241.5 1178.1,242.5 1178.7,243.5 1179.4,244.5 1180,245.5 1180.7,246.5 1181.3,247.5 1182,248.4 1182.6,249.4 1183.3,250.4 1184,251.3 1184.6,252.3 1185.3,253.3 1186,254.2 1186.7,255.2 1187.4,256.1 1188.1,257.1 1188.9,258 1189.6,258.9 1190.4,259.9 1191.1,260.8 1191.9,261.7 1192.7,262.7 1193.5,263.6 1194.3,264.5 1195.1,265.4 1196,266.3 1196.8,267.2 1197.7,268.1 1198.6,269 1199.4,269.8 1200.3,270.7 1201.3,271.5 1202.2,272.4 1203.1,273.2 1204,274 1205,274.7 1205.9,275.5 1206.9,276.2 1207.9,277 1208.9,277.7 1209.8,278.4 1210.8,279 1211.9,279.7 1212.9,280.3 1213.9,280.8 1214.9,281.4 1215.9,281.9 1217,282.4 1218,282.9 1219.1,283.4 1220.1,283.8 1221.2,284.2 1222.3,284.5 1223.3,284.8 1224.4,285.1 1225.5,285.4 1226.6,285.6 1227.6,285.7 1228.7,285.9 1229.8,286 1230.9,286 1232,286 1233.1,286 1234.2,285.9 1235.3,285.8 1236.4,285.6 1237.5,285.4 1238.6,285.2 1239.7,285 1240.8,284.7 1242,284.3 1243.1,284 1244.2,283.6 1245.3,283.2 1246.4,282.8 1247.5,282.3 1248.7,281.9 1249.8,281.4 1250.9,280.9 1252,280.4 1253.2,279.8 1254.3,279.3 1255.4,278.7 1256.6,278.2 1257.7,277.6 1258.8,277 1260,276.4 1261.1,275.9 1262.2,275.3 1263.4,274.7 1264.5,274.1 1265.7,273.5 1266.8,273 1268,272.4 1269.1,271.9 1270.2,271.4 1271.4,270.8 1272.5,270.3 1273.7,269.8 1274.8,269.4 1276,268.9 1277.2,268.5 1278.3,268.1 1279.5,267.7 1280.6,267.4 1281.8,267.1 1282.9,266.8 1284.1,266.5 1285.3,266.3 1286.4,266.1 1287.6,265.9 1288.7,265.7 1289.9,265.6 1291.1,265.5 1292.2,265.5 1293.4,265.4 1294.5,265.4 1295.7,265.4 1296.9,265.4 1298,265.5 1299.2,265.6 1300.3,265.7 1301.5,265.8 1302.7,266 1303.8,266.1 1305,266.3 1306.1,266.5 1307.3,266.7 1308.4,267 1309.6,267.3 1310.7,267.5 1311.8,267.8 1313,268.2 1314.1,268.5 1315.3,268.9 1316.4,269.2 1317.5,269.6 1318.6,270 1319.8,270.4 1320.9,270.8 1322,271.3 1323.1,271.7 1324.2,272.2 1325.4,272.7 1326.5,273.2 1327.6,273.7 1328.7,274.2 1329.8,274.7 1330.8,275.2 1331.9,275.8 1333,276.3 1334.1,276.9 1335.2,277.5 1336.2,278 1337.3,278.6 1338.4,279.2 1339.4,279.8 1340.5,280.4 1341.6,281 1342.6,281.6 1343.7,282.2 1344.7,282.8 1345.8,283.4 1346.8,284 1347.9,284.7 1348.9,285.3 1350,285.9 1351,286.5 1352.1,287.1 1353.1,287.8 1354.2,288.4 1355.2,289 1356.3,289.6 1357.3,290.2 1358.3,290.8 1359.4,291.4 1360.4,292 1361.5,292.6 1362.6,293.2 1363.6,293.8 1364.7,294.4 1365.7,295 1366.8,295.5 1367.9,296.1 1368.9,296.6 1370,297.2 1371.1,297.7 1372.2,298.2 1373.2,298.8 1374.3,299.3 1375.4,299.7 1376.5,300.2 1377.6,300.7 1378.7,301.2 1379.8,301.6 1380.9,302 1382,302.4 1383.2,302.9 1384.3,303.3 1385.4,303.6 1386.6,304 1387.7,304.4 1388.8,304.7 1390,305.1 1391.1,305.4 1392.3,305.7 1393.4,306 1394.6,306.3 1395.7,306.6 1396.9,306.8 1398.1,307.1 1399.2,307.3 1400.4,307.6 1401.6,307.8 1402.8,308 1403.9,308.2 1405.1,308.4 1406.3,308.5 1407.5,308.7 1408.7,308.9 1409.9,309 1411,309.1 1412.2,309.3 1413.4,309.4 1414.6,309.5 1415.8,309.7 1417,309.8 1418.2,309.9 1419.4,310 1420.6,310.1 1421.8,310.2 1423,310.3 1424.2,310.4 1425.4,310.5 1426.6,310.6 1427.8,310.8 1429,310.9 1430.2,311 1431.4,311.1 1432.6,311.3 1433.8,311.4 1435,311.5 1436.2,311.7 1437.4,311.8 1438.6,312 1439.8,312.2 1441,312.3 1442.1,312.5 1443.3,312.7 1444.5,312.9 1445.7,313.1 1446.9,313.3 1448.1,313.5 1449.3,313.7 1450.5,313.9 1451.6,314.1 1452.8,314.3 1454,314.6 1455.2,314.8 1456.3,315.1 1457.5,315.3 1458.7,315.6 1459.8,315.9 1461,316.2 1462.1,316.5 1463.3,316.8 1464.4,317.1 1465.6,317.4 1466.7,317.7 1467.9,318.1 1469,318.4 1470.1,318.8 1471.3,319.1 1472.4,319.5 1473.5,319.9 1474.6,320.3 1475.7,320.7 1476.8,321.1 1478,321.6 1479.1,322 1480.1,322.5 1481.2,322.9 1482.3,323.4 1483.4,323.9 1484.5,324.4 1485.6,324.9 1486.6,325.4 1487.7,325.9 1488.8,326.4 1489.8,326.9 1490.9,327.5 1492,328 1493,328.5 1494.1,329.1 1495.1,329.6 1496.2,330.2 1497.2,330.8 1498.3,331.3 1499.3,331.9 1500.4,332.5 1501.4,333 1502.5,333.6 1503.5,334.2 1504.6,334.8 1505.6,335.3 1506.7,335.9 1507.8,336.5 1508.8,337.1 1509.9,337.6 1510.9,338.2 1512,338.8 1513.1,339.3 1514.1,339.9 1515.2,340.5 1516.3,341 1517.3,341.6 1518.4,342.1 1519.5,342.7 1520.6,343.2 1521.7,343.7 1522.8,344.2 1523.9,344.8 1525,345.3 1526.1,345.8 1527.2,346.3 1528.3,346.7 1529.4,347.2 1530.5,347.7 1531.7,348.1 1532.8,348.6 1533.9,349 1535.1,349.4 1536.2,349.9 1537.4,350.3 1538.5,350.6 1539.7,351 1540.8,351.4 1542,351.7 1543.1,352.1 1544.3,352.4 1545.5,352.7 1546.6,353 1547.8,353.2 1549,353.5 1550.2,353.7 1551.3,354 1552.5,354.2 1553.7,354.4 1554.9,354.5 1556,354.7 1557.2,354.8 1558.4,354.9 1559.6,355 1560.8,355.1 1562,355.1 1563.1,355.1 1564.3,355.1 1565.5,355.1 1566.7,355.1 1567.9,355 1569.1,354.9 1570.2,354.8 1571.4,354.7 1572.6,354.5 1573.8,354.3 1575,354.1 1576.1,353.9 1577.3,353.6 1578.5,353.4 1579.7,353.1 1580.8,352.7 1582,352.4 1583.2,352 1584.3,351.7 1585.5,351.3 1586.7,350.9 1587.8,350.5 1589,350 1590.1,349.6 1591.3,349.2 1592.4,348.7 1593.5,348.3 1594.7,347.9 1595.8,347.4 1596.9,347 1598.1,346.5 1599.2,346.1 1600.3,345.7 1601.4,345.2 1602.5,344.8 1603.6,344.4 1604.7,344 1605.8,343.6 1606.9,343.2 1608,342.8 1609.1,342.3 1610.2,341.9 1611.3,341.4 1612.4,340.9 1613.5,340.4 1614.5,339.9 1615.6,339.3 1616.7,338.8 1617.8,338.2 1618.9,337.7 1620,337.1 1621.1,336.6 1622.2,336.1 1623.4,335.6 1624.5,335.2 1625.6,334.8 1626.7,334.4 1627.9,334 1629,333.7 1630.2,333.4 1631.3,333.1 1632.5,332.9 1633.6,332.7 1634.8,332.5 1635.9,332.3 1637.1,332.2 1638.3,332.1 1639.4,332 1640.6,332 1641.8,332 1642.9,331.9 1644.1,332 1645.3,332 1646.5,332.1 1647.6,332.2 1648.8,332.3 1650,332.4 1651.2,332.6 1652.3,332.7 1653.5,332.9 1654.7,333.1 1655.8,333.4 1657,333.6 1658.2,333.9 1659.3,334.2 1660.5,334.5 1661.7,334.8 1662.8,335.1 1664,335.5 1665.1,335.9 1666.3,336.2 1667.4,336.6 1668.5,337.1 1669.7,337.5 1670.8,337.9 1671.9,338.4 1673,338.8 1674.1,339.3 1675.2,339.8 1676.3,340.3 1677.4,340.8 1678.5,341.3 1679.6,341.9 1680.7,342.4 1681.8,343 1682.8,343.5 1683.9,344.1 1684.9,344.7 1686,345.3 1687,345.9 1688.1,346.5 1689.1,347.1 1690.1,347.7 1691.2,348.4 1692.2,349 1693.2,349.7 1694.2,350.3 1695.2,351 1696.2,351.7 1697.2,352.4 1698.2,353.1 1699.1,353.8 1700.1,354.5 1701.1,355.2 1702,355.9 1703,356.6 1704,357.4 1704.9,358.1 1705.8,358.9 1706.8,359.6 1707.7,360.4 1708.6,361.2 1709.6,361.9 1710.5,362.7 1711.4,363.5 1712.3,364.3 1713.2,365.1 1714.1,365.9 1715,366.7 1715.9,367.5 1716.8,368.3 1717.6,369.1 1718.5,369.9 1719.4,370.7 1720.3,371.6 1721.1,372.4 1722,373.2 1722.8,374.1 1723.7,374.9 1724.5,375.7 1725.4,376.6 1726.2,377.4 1727.1,378.3 1727.9,379.1 1728.7,380 1729.6,380.8 1730.4,381.7 1731.2,382.5 1732,383.4 1732.9,384.2 1733.7,385.1 1734.5,385.9 1735.4,386.8 1736.2,387.6 1737,388.5 1737.8,389.3 1738.7,390.2 1739.5,391 1740.3,391.9 1741.2,392.7 1742,393.6 1742.8,394.4 1743.7,395.3 1744.5,396.1 1745.4,397 1746.2,397.8 1747,398.6 1747.9,399.5 1748.8,400.3 1749.6,401.1 1750.5,401.9 1751.3,402.8 1752.2,403.6 1753.1,404.4 1754,405.2 1754.9,406 1755.7,406.8 1756.6,407.6 1757.5,408.4 1758.4,409.2 1759.3,410 1760.3,410.8 1761.2,411.6 1762.1,412.3 1763,413.1 1764,413.9 1764.9,414.6 1765.8,415.4 1766.8,416.1 1767.7,416.9 1768.7,417.6 1769.6,418.3 1770.6,419.1 1771.5,419.8 1772.5,420.5 1773.5,421.2 1774.5,421.9 1775.4,422.7 1776.4,423.3 1777.4,424 1778.4,424.7 1779.4,425.4 1780.4,426.1 1781.4,426.8 1782.4,427.4 1783.4,428.1 1784.5,428.7 1785.5,429.4 1786.5,430 1787.5,430.6 1788.6,431.3 1789.6,431.9 1790.6,432.5 1791.7,433.1 1792.7,433.7 1793.8,434.3 1794.8,434.9 1795.9,435.5 1796.9,436 1798,436.6 1799.1,437.2 1800.1,437.7 1801.2,438.3 1802.3,438.8 1803.4,439.3 1804.4,439.9 1805.5,440.4 1806.6,440.9 1807.7,441.4 1808.8,441.9 1809.9,442.4 1811,442.8 1812.1,443.3 1813.2,443.8 1814.3,444.2 1815.4,444.7 1816.6,445.1 1817.7,445.5 1818.8,446 1819.9,446.4 1821.1,446.8 1822.2,447.2 1823.3,447.5 1824.5,447.9 1825.6,448.3 1826.7,448.7 1827.9,449 1829,449.3 1830.2,449.7 1831.3,450 1832.5,450.3 1833.6,450.6 1834.8,450.9 1836,451.2 1837.1,451.5 1838.3,451.8 1839.5,452 1840.6,452.3 1841.8,452.5"/>
<path stroke="#000" stroke-width="12.6" stroke-dasharray="12.6 4 12.6 4 12.6 4 12.6 4 12.6 4 12.6 4 12.6 4 12.6 4 12.6 4 12.6 4 12.6 4 12.6 4 12.6 4 12.6 4 12.6 4 12.6 4 12.6 4 10.08 50" d="M246.1,44.5 248.1,44.5 250.1,44.5 252.1,44.5 254.1,44.5 256.1,44.5 258.1,44.5 260.1,44.5 262.1,44.5 264.1,44.7 266,45.2 267.9,45.8 269.8,46.4 271.6,47.4 273.1,48.7 274.6,50.1 276.2,51.2 278.1,51.3 279.8,50.2 281.2,48.8 282.6,47.4 284.2,46.2 286,46.5 287.4,48 288.4,49.7 289.3,51.5 290.2,53.3 291.2,55 292.3,56.7 293.9,57.7 295.8,57.1 297.2,55.7 298.6,54.3 300,52.8 301.6,51.6 303.2,50.5 304.9,49.4 306.7,48.5 308.6,48.6 309.9,50.1 310.7,51.9 311.5,53.8 312.2,55.6 313,57.5 313.7,59.3 314.5,61.2 315.1,63.1 315.7,65 316.3,66.9 316.9,68.8 317.5,70.7 318.2,72.6 319.2,74.3 320.8,74.6 322.3,73.3 323.4,71.6 324.5,69.9 325.7,68.3 327.1,66.9 328.4,65.4 329.7,63.9 331.3,62.6 333.1,62.1 335,62.8 336.5,64 338.1,65.3 339.9,66 341.6,64.9 342.8,63.3 343.9,61.7 345.3,60.3 347.2,60.1 349.2,60.6 351,61.4 352.5,62.7 353.2,64.6 353.8,66.5 354.3,68.4 354.7,70.4 355.2,72.3 355.8,74.2 356.4,76.1 356.9,78.1 357.5,80 358,81.9 358.6,83.8 359.2,85.7 360.1,87.5 361.5,87.1 362.4,85.3 363,83.4 363.6,81.5 364.3,79.6 365.1,77.8 366.1,76.1 367.2,74.4 368.5,72.9 370.2,72.1 372,72.9 373.4,74.3 374.6,75.9 375.8,77.5 377.1,79.1 378.5,80.5 379.9,81.9 381.3,83.3 382.8,84.6 384.5,85.7 386.5,85.9 388.3,85.1 389.9,84 391.6,82.9 393.3,81.9 395,80.9 396.8,79.9 398.7,79.2 400.6,79 402.6,79.2 404.6,79.5 406.6,79.9 408.5,80.3 410.5,80.8 412.4,81.4 414.2,82.2 415.9,83.2 417.6,84.4 419.2,85.5 420.9,86.5 422.7,87.5 424.4,88.4 426.2,89.4 428,90.3 429.8,91.1 431.6,91.9 433.5,92.8 435.3,93.6 437,94.6 438.6,95.8 440.2,97 441.9,98 443.8,98.6 445.8,98.3 447.5,97.4 449.2,96.4 451.1,95.6 453,94.9 454.9,94.3 455.8,94"/>
<path stroke="#000" stroke-width="12.6" stroke-dasharray="0 4.1 13.25 7.08 13 7.07 13 7.09 13.08 7.17 13.32 7.32 9.54 50" d="M455.8,94 457.8,94.3 459.8,94.6 461.8,94.8 463.8,94.9 465.8,95.1 467.8,95.2 469.8,95.3 471.8,95.4 473.8,95.4 475.8,95.4 477.8,95.4 479.8,95.5 481.8,95.5 483.8,95.4 485.8,95.4 487.8,95.4 489.8,95.4 491.8,95.5 493.8,95.5 495.8,95.5 497.8,95.6 499.8,95.6 501.8,95.7 503.8,95.9 505.8,96 507.8,96.2 509.7,96.4 511.7,96.6 513.7,96.9 515.7,97.2 517.7,97.6 519.6,98 521.6,98.4 523.5,98.9 525.4,99.4 527.3,100 529.2,100.7 531.1,101.4 533,102.1 534.8,102.9 536.6,103.8 538.4,104.7 540.1,105.7 541.8,106.8 543.5,107.9 545.1,109.1 546.7,110.3 548.2,111.6 549.6,113 551,114.4 552.4,115.9 553.7,117.4 554.9,119 556.1,120.6 557.3,122.2 558.4,123.8 559.5,125.5 560,126.4"/>
<path stroke="#000" stroke-width="12.6" stroke-dasharray="10.44 10.98 12.59 10.99 12.6 11 12.6 11 12.6 11 12.6 11 12.6 11 12.6 11 12.6 11 12.6 11 12.6 11 12.6 11 12.6 11 12.6 11 12.6 11 12.6 11 12.6 11 12.6 11 12.6 11 12.6 11 12.6 11 12.6 11 12.6 11 12.6 11 12.6 11 12.6 11 12.6 11 12.6 11 12.6 11 12.6 11 12.6 11 12.6 11 12.6 11 12.6 11 12.6 11 8.67 50" d="M560,126.4 561.1,128.1 562.1,129.8 563.1,131.6 564,133.3 565,135.1 565.9,136.9 566.8,138.6 567.6,140.4 568.5,142.3 569.3,144.1 570.1,145.9 570.9,147.8 571.7,149.6 572.4,151.5 573.1,153.3 573.8,155.2 574.5,157.1 575.2,159 575.8,160.9 576.5,162.8 577.1,164.7 577.7,166.6 578.2,168.5 578.8,170.4 579.4,172.3 579.9,174.3 580.4,176.2 580.9,178.1 581.4,180.1 581.9,182 582.3,184 582.8,185.9 583.2,187.9 583.6,189.8 584,191.8 584.4,193.7 584.8,195.7 585.2,197.7 585.5,199.6 585.9,201.6 586.2,203.6 586.5,205.6 586.9,207.5 587.2,209.5 587.5,211.5 587.8,213.5 588.1,215.4 588.4,217.4 588.6,219.4 588.9,221.4 589.2,223.4 589.4,225.4 589.7,227.3 589.9,229.3 590.2,231.3 590.4,233.3 590.7,235.3 590.9,237.3 591.1,239.3 591.3,241.2 591.6,243.2 591.8,245.2 592,247.2 592.2,249.2 592.4,251.2 592.7,253.2 592.9,255.2 593.1,257.2 593.3,259.1 593.5,261.1 593.7,263.1 593.9,265.1 594.1,267.1 594.3,269.1 594.5,271.1 594.7,273.1 594.9,275.1 595.1,277.1 595.3,279 595.5,281 595.7,283 595.9,285 596.1,287 596.2,289 596.4,291 596.6,293 596.8,295 597,297 597.1,299 597.3,301 597.5,303 597.7,304.9 597.8,306.9 598,308.9 598.2,310.9 598.3,312.9 598.5,314.9 598.7,316.9 598.8,318.9 599,320.9 599.2,322.9 599.3,324.9 599.5,326.9 599.6,328.9 599.8,330.9 599.9,332.9 600.1,334.9 600.2,336.8 600.4,338.8 600.5,340.8 600.7,342.8 600.8,344.8 601,346.8 601.1,348.8 601.3,350.8 601.4,352.8 601.5,354.8 601.7,356.8 601.8,358.8 602,360.8 602.1,362.8 602.2,364.8 602.4,366.8 602.5,368.8 602.6,370.8 602.8,372.8 602.9,374.8 603,376.8 603.1,378.8 603.3,380.8 603.4,382.8 603.5,384.8 603.6,386.7 603.7,388.7 603.9,390.7 604,392.7 604.1,394.7 604.2,396.7 604.3,398.7 604.5,400.7 604.6,402.7 604.7,404.7 604.8,406.7 604.9,408.7 605,410.7 605.1,412.7 605.2,414.7 605.3,416.7 605.5,418.7 605.6,420.7 605.7,422.7 605.8,424.7 605.9,426.7 606,428.7 606.1,430.7 606.2,432.7 606.3,434.7 606.4,436.7 606.5,438.7 606.6,440.7 606.7,442.7 606.8,444.7 606.9,446.7 607,448.7 607.1,450.7 607.2,452.7 607.3,454.7 607.4,456.7 607.5,458.7 607.6,460.7 607.7,462.7 607.7,464.7 607.8,466.7 607.9,468.7 608,470.7 608.1,472.7 608.2,474.7 608.3,476.7 608.4,478.6 608.5,480.6 608.6,482.6 608.6,484.6 608.7,486.6 608.8,488.6 608.9,490.6 609,492.6 609.1,494.6 609.2,496.6 609.3,498.6 609.3,500.6 609.4,502.6 609.5,504.6 609.6,506.6 609.7,508.6 609.8,510.6 609.8,512.6 609.9,514.6 610,516.6 610.1,518.6 610.2,520.6 610.2,522.6 610.3,524.6 610.4,526.6 610.5,528.6 610.6,530.6 610.6,532.6 610.7,534.6 610.8,536.6 610.9,538.6 611,540.6 611,542.6 611.1,544.6 611.2,546.6 611.3,548.6 611.3,550.6 611.4,552.6 611.5,554.6 611.6,556.6 611.6,558.6 611.7,560.6 611.8,562.6 611.8,564.6 611.9,566.6 612,568.6 612,570.6 612.1,572.6 612.2,574.6 612.3,576.6 612.3,578.6 612.4,580.6 612.5,582.6 612.5,584.6 612.6,586.6 612.6,588.6 612.7,590.6 612.8,592.6 612.8,594.6 612.9,596.6 613,598.6 613,600.6 613.1,602.6 613.1,604.6 613.2,606.6 613.3,608.6 613.3,610.6 613.4,612.6 613.4,614.6 613.5,616.6 613.6,618.6 613.6,620.6 613.7,622.6 613.7,624.6 613.8,626.6 613.8,628.6 613.9,630.6 613.9,632.6 614,634.6 614,636.6 614.1,638.6 614.1,640.6 614.2,642.6 614.2,644.6 614.3,646.6 614.3,648.6 614.4,650.6 614.4,652.6 614.5,654.6 614.5,656.6 614.6,658.6 614.6,660.6 614.7,662.6 614.7,664.6 614.8,666.6 614.8,668.6 614.8,670.6 614.9,672.6 614.9,674.6 615,676.6 615,678.6 615,680.6 615.1,682.6 615.1,684.6 615.2,686.6 615.2,688.6 615.2,690.6 615.3,692.6 615.3,694.6 615.3,696.6 615.4,698.6 615.4,700.6 615.4,702.6 615.5,704.6 615.5,706.6 615.5,708.6 615.5,710.6 615.6,712.6 615.6,714.6 615.6,716.6 615.7,718.6 615.7,720.6 615.7,722.6 615.7,724.6 615.8,726.6 615.8,728.6 615.8,730.6 615.8,732.6 615.8,734.6 615.9,736.6 615.9,738.6 615.9,740.6 615.9,742.6 615.9,744.6 616,746.6 616,748.6 616,750.6 616,752.6 616,754.6 616.1,756.6 616.1,758.6 616.1,760.6 616.1,762.6 616.1,764.6 616.1,766.6 616.2,768.6 616.2,770.6 616.2,772.6 616.2,774.6 616.2,776.6 616.2,778.6 616.2,780.6 616.3,782.6 616.3,784.6 616.3,786.6 616.3,788.6 616.3,790.6 616.3,792.6 616.4,794.6 616.4,796.6 616.4,798.6 616.4,800.6 616.4,802.6 616.4,804.6 616.4,806.6 616.5,808.6 616.5,810.6 616.5,812.6 616.5,814.6 616.5,816.6 616.6,818.6 616.6,820.6 616.6,822.6 616.6,824.6 616.6,826.6 616.6,828.6 616.7,830.6 616.7,832.6 616.7,834.6 616.7,836.6 616.8,838.6 616.8,840.6 616.8,842.6 616.8,844.6 616.8,846.6 616.9,848.6 616.9,850.6 616.9,852.6 617,854.6 617,856.6 617,858.6 617,860.6 617.1,862.6 617.1,864.6 617.1,866.6 617.2,868.6 617.2,870.6 617.2,872.6 617.3,874.6 617.3,876.6 617.3,878.6 617.4,880.6 617.4,882.6 617.5,884.6 617.5,886.6 617.5,888.6 617.6,890.6 617.6,892.6 617.7,894.6 617.7,896.6 617.8,898.6 617.8,900.6 617.9,902.6 617.9,904.6 618,906.6 618,908.6 618.1,910.6 618.1,912.6 618.2,914.6 618.3,916.6 618.3,918.6 618.4,920.6 618.4,922.6 618.5,924.6 618.6,926.6 618.6,928.6 618.7,930.6 618.8,932.6 618.9,934.6 618.9,936.6 619,938.6 619.1,940.6 619.2,942.6 619.2,944.6 619.3,946.6 619.4,948.6 619.5,950.6 619.6,952.6 619.6,952.4"/>
<path stroke="#000" stroke-width="12.6" stroke-dasharray="7.43 11 12.6 11 12.6 11 12.6 11 12.6 11 12.6 11 12.6 11 12.6 11 12.6 11 12.6 11 12.6 11 12.6 11 12.6 11 12.6 11 12.6 11 12.6 11 12.6 11 12.6 11 12.6 11 12.6 11 12.6 11 12.6 11 12.6 11 12.6 11 12.6 11 12.6 11 12.6 11 12.6 11 12.6 11 12.6 11 12.6 11 12.6 11 12.6 11 12.6 11 12.59 10.98 12.53 10.81 12.13 10.48 12.01 10.52 12.09 10.56 12.1 10.57 12.13 10.61 12.17 10.62 12.12 10.54 12.07 10.54 12.08 10.57 12.19 10.72 12.39 10.91 12.56 10.99 12.6 11 12.6 11 12.6 11 12.6 11 12.6 11 12.6 11 12.6 11 12.6 11 12.6 11 12.6 11 12.6 11 12.6 11 12.6 11 12.6 11 12.6 11 12.6 11 11.03 50" d="M619.6,952.4 619.7,950.4 619.7,948.4 619.7,946.4 619.8,944.4 619.8,942.4 619.8,940.4 619.9,938.4 619.9,936.4 620,934.4 620,932.4 620,930.4 620.1,928.4 620.1,926.4 620.2,924.4 620.2,922.4 620.2,920.4 620.3,918.4 620.3,916.4 620.3,914.4 620.4,912.4 620.4,910.4 620.5,908.4 620.5,906.4 620.5,904.4 620.6,902.4 620.6,900.4 620.6,898.4 620.7,896.4 620.7,894.4 620.7,892.4 620.8,890.4 620.8,888.4 620.9,886.4 620.9,884.4 620.9,882.4 621,880.4 621,878.4 621,876.4 621.1,874.4 621.1,872.4 621.1,870.4 621.2,868.4 621.2,866.4 621.3,864.4 621.3,862.4 621.3,860.4 621.4,858.4 621.4,856.4 621.4,854.4 621.5,852.4 621.5,850.4 621.5,848.4 621.6,846.4 621.6,844.4 621.6,842.4 621.7,840.4 621.7,838.4 621.8,836.4 621.8,834.4 621.8,832.4 621.9,830.4 621.9,828.4 621.9,826.4 622,824.4 622,822.4 622,820.4 622.1,818.4 622.1,816.4 622.2,814.4 622.2,812.4 622.2,810.4 622.3,808.4 622.3,806.4 622.3,804.4 622.4,802.4 622.4,800.4 622.4,798.4 622.5,796.4 622.5,794.4 622.6,792.4 622.6,790.4 622.6,788.4 622.7,786.4 622.7,784.4 622.7,782.4 622.8,780.4 622.8,778.4 622.9,776.4 622.9,774.4 622.9,772.4 623,770.4 623,768.4 623,766.4 623.1,764.4 623.1,762.4 623.2,760.4 623.2,758.4 623.2,756.4 623.3,754.4 623.3,752.4 623.4,750.4 623.4,748.4 623.4,746.4 623.5,744.4 623.5,742.4 623.6,740.4 623.6,738.4 623.6,736.4 623.7,734.4 623.7,732.4 623.8,730.4 623.8,728.4 623.8,726.4 623.9,724.4 623.9,722.4 624,720.4 624,718.4 624.1,716.4 624.1,714.4 624.1,712.4 624.2,710.4 624.2,708.4 624.3,706.4 624.3,704.4 624.4,702.4 624.4,700.4 624.4,698.4 624.5,696.4 624.5,694.4 624.6,692.4 624.6,690.4 624.7,688.4 624.7,686.4 624.8,684.4 624.8,682.4 624.9,680.4 624.9,678.4 624.9,676.4 625,674.4 625,672.4 625.1,670.4 625.1,668.4 625.2,666.4 625.2,664.4 625.3,662.4 625.3,660.4 625.4,658.4 625.4,656.4 625.5,654.4 625.5,652.4 625.6,650.4 625.6,648.4 625.7,646.4 625.7,644.4 625.8,642.4 625.8,640.4 625.9,638.4 625.9,636.4 626,634.4 626.1,632.4 626.1,630.4 626.2,628.4 626.2,626.4 626.3,624.4 626.3,622.4 626.4,620.4 626.4,618.4 626.5,616.4 626.5,614.4 626.6,612.4 626.7,610.4 626.7,608.4 626.8,606.4 626.8,604.4 626.9,602.4 627,600.4 627,598.4 627.1,596.4 627.1,594.4 627.2,592.4 627.3,590.4 627.3,588.4 627.4,586.4 627.4,584.4 627.5,582.4 627.6,580.4 627.6,578.4 627.7,576.4 627.8,574.4 627.8,572.4 627.9,570.4 627.9,568.4 628,566.4 628.1,564.4 628.1,562.4 628.2,560.4 628.3,558.4 628.3,556.4 628.4,554.4 628.5,552.4 628.6,550.4 628.6,548.4 628.7,546.4 628.8,544.4 628.8,542.4 628.9,540.4 629,538.4 629.1,536.4 629.1,534.4 629.2,532.4 629.3,530.4 629.3,528.4 629.4,526.4 629.5,524.4 629.6,522.4 629.6,520.4 629.7,518.4 629.8,516.4 629.9,514.4 630,512.4 630,510.4 630.1,508.4 630.2,506.4 630.3,504.4 630.4,502.4 630.4,500.4 630.5,498.4 630.6,496.4 630.7,494.4 630.8,492.4 630.9,490.4 630.9,488.4 631,486.4 631.1,484.4 631.2,482.4 631.3,480.4 631.4,478.4 631.5,476.4 631.5,474.4 631.6,472.4 631.7,470.4 631.8,468.4 631.9,466.4 632,464.4 632.1,462.4 632.2,460.4 632.3,458.4 632.4,456.4 632.5,454.4 632.6,452.4 632.6,450.4 632.7,448.4 632.8,446.4 632.9,444.4 633,442.4 633.1,440.4 633.2,438.4 633.3,436.4 633.4,434.4 633.5,432.4 633.6,430.5 633.7,428.5 633.8,426.5 633.9,424.5 634,422.5 634.1,420.5 634.3,418.5 634.4,416.5 634.5,414.5 634.6,412.5 634.7,410.5 634.8,408.5 634.9,406.5 635,404.5 635.1,402.5 635.2,400.5 635.3,398.5 635.5,396.5 635.6,394.5 635.7,392.5 635.8,390.5 635.9,388.5 636,386.5 636.1,384.5 636.3,382.5 636.4,380.5 636.5,378.5 636.6,376.5 636.7,374.5 636.9,372.5 637,370.5 637.1,368.5 637.2,366.5 637.3,364.5 637.5,362.5 637.6,360.5 637.7,358.5 637.8,356.6 638,354.6 638.1,352.6 638.2,350.6 638.4,348.6 638.5,346.6 638.6,344.6 638.8,342.6 638.9,340.6 639.1,338.6 639.2,336.6 639.3,334.6 639.5,332.6 639.6,330.6 639.8,328.6 639.9,326.6 640.1,324.6 640.2,322.6 640.4,320.6 640.6,318.6 640.7,316.6 640.9,314.6 641,312.7 641.2,310.7 641.4,308.7 641.5,306.7 641.7,304.7 641.9,302.7 642.1,300.7 642.3,298.7 642.5,296.7 642.6,294.7 642.8,292.7 643,290.7 643.2,288.7 643.4,286.8 643.6,284.8 643.8,282.8 644,280.8 644.3,278.8 644.5,276.8 644.7,274.8 644.9,272.8 645.1,270.8 645.4,268.9 645.6,266.9 645.8,264.9 646.1,262.9 646.3,260.9 646.6,258.9 646.8,256.9 647.1,255 647.3,253 647.6,251 647.9,249 648.1,247 648.4,245 648.7,243.1 649,241.1 649.3,239.1 649.6,237.1 649.9,235.1 650.2,233.2 650.5,231.2 650.8,229.2 651.1,227.2 651.4,225.3 651.7,223.3 652.1,221.3 652.4,219.3 652.7,217.4 653.1,215.4 653.4,213.4 653.8,211.5 654.2,209.5 654.5,207.5 654.9,205.6 655.3,203.6 655.6,201.6 656,199.7 656.4,197.7 656.8,195.8 657.2,193.8 657.6,191.8 658,189.9 658.5,187.9 658.9,186 659.3,184 659.8,182.1 660.2,180.1 660.7,178.2 661.1,176.2 661.6,174.3 662.1,172.3 662.6,170.4 663.2,168.5 663.7,166.6 664.3,164.6 664.9,162.7 665.5,160.8 666.1,158.9 666.8,157 667.4,155.1 668.1,153.3 668.8,151.4 669.6,149.5 670.3,147.7 671.1,145.8 671.9,144 672.8,142.2 673.7,140.4 674.6,138.6 675.5,136.9 676.5,135.1 677.5,133.4 678.6,131.7 679.7,130.1 680.9,128.5 682.2,126.9 683.5,125.4 684.9,123.9 686.3,122.6 687.8,121.3 689.4,120.1 691.1,118.9 692.8,117.9 694.6,117 696.4,116.2 698.3,115.5 700.2,115 702.2,114.5 704.1,114.2 706.1,114 708.1,113.8 710.1,113.7 712.1,113.7 714.1,113.8 716.1,113.9 718.1,114 720.1,114.3 722.1,114.5 724.1,114.8 726,115.2 728,115.6 730,116 731.9,116.4 733.8,116.9 735.8,117.4 737.7,117.9 739.6,118.5 741.6,119 743.5,119.6 745.4,120.2 747.3,120.7 749.2,121.3 751.1,121.9 753.1,122.4 755,123 756.9,123.6 758.8,124.1 760.8,124.7 762.7,125.2 764.6,125.8 766.5,126.3 768.4,126.9 770.4,127.5 772.3,128.1 774.2,128.6 776.1,129.2 778,129.8 779.9,130.4 781.8,131.1 783.7,131.7 785.6,132.3 787.5,133 789.4,133.6 791.3,134.3 793.1,135 795,135.7 796.9,136.4 798.8,137.1 800.6,137.9 802.5,138.6 804.3,139.3 806.2,140.1 808.1,140.8 809.9,141.5 811.8,142.2 813.7,142.9 815.5,143.6 817.4,144.3 819.3,145 821.2,145.6 823.1,146.3 825,146.8 826.9,147.4 828.9,147.9 830.8,148.4 832.8,148.8 834.8,149.1 836.7,149.4 838.7,149.6 840.7,149.7 842.7,149.8 844.7,149.8 846.7,149.8 848.7,149.8 850.7,149.7 852.7,149.6 854.7,149.4 856.7,149.3 858.7,149.2 860.7,149 862.7,148.9 864.7,148.8 866.7,148.7 868.7,148.6 870.7,148.5 872.7,148.5 874.7,148.6 876.7,148.7 878.7,148.9 880.7,149.1 882.6,149.4 884.6,149.7 886.6,150.1 888.5,150.6 890.5,151.1 892.4,151.7 894.3,152.3 896.1,153 898,153.8 899.8,154.6 901.6,155.4 903.4,156.3 905.2,157.2 906.9,158.2 908.7,159.3 910.3,160.3 912,161.5 913.6,162.6 915.2,163.9 916.7,165.1 918.2,166.5 919.7,167.8 921.1,169.2 922.5,170.7 923.8,172.2 925.1,173.7 926.3,175.3 927.4,177 928.6,178.6 929.6,180.3 930.6,182.1 931.6,183.8 932.5,185.6 933.3,187.4 934.1,189.2 934.9,191.1 935.7,192.9 936.4,194.8 937.1,196.7 937.7,198.6 938.4,200.5 939,202.4 939.6,204.3 940.1,206.2 940.7,208.1 941.2,210 941.8,212 942.3,213.9 942.9,215.8 943.4,217.8 943.9,219.7 944.4,221.6 945,223.6 945.5,225.5 946,227.4 946.5,229.4 947,231.3 947.4,233.2 947.9,235.2 948.4,237.1 948.9,239.1 949.3,241 949.8,243 950.3,244.9 950.7,246.9 951.2,248.8 951.6,250.8 952,252.7 952.5,254.7 952.9,256.6 953.3,258.6 953.8,260.5 954.2,262.5 954.6,264.4 955,266.4 955.4,268.4 955.8,270.3 956.2,272.3 956.6,274.2 957,276.2 957.3,278.2 957.7,280.1 958.1,282.1 958.5,284.1 958.8,286 959.2,288 959.5,290 959.9,291.9 960.2,293.9 960.6,295.9 960.9,297.9 961.3,299.8 961.6,301.8 961.9,303.8 962.2,305.7 962.6,307.7 962.9,309.7 963.2,311.7 963.5,313.6 963.8,315.6 964.1,317.6 964.4,319.6 964.7,321.6 965,323.5 965.3,325.5 965.6,327.5 965.9,329.5 966.2,331.5 966.4,333.4 966.7,335.4 967,337.4 967.3,339.4 967.5,341.4 967.8,343.3 968,345.3 968.3,347.3 968.6,349.3 968.8,351.3 969.1,353.3 969.3,355.3 969.5,357.2 969.8,359.2 970,361.2 970.3,363.2 970.5,365.2 970.7,367.2 970.9,369.2 971.2,371.1 971.4,373.1 971.6,375.1 971.8,377.1 972,379.1 972.3,381.1 972.5,383.1 972.7,385.1 972.9,387.1 973.1,389 973.3,391 973.5,393 973.7,395 973.9,397 974.1,399 974.3,401 974.5,403 974.6,405 974.8,407 975,409 975.2,411 975.4,412.9 975.6,414.9 975.7,416.9 975.9,418.9 976.1,420.9 976.3,422.9 976.4,424.9 976.6,426.9 976.8,428.9 976.9,430.9 977.1,432.9 977.3,434.9 977.4,436.9 977.6,438.9 977.8,440.9 977.9,442.8 978.1,444.8 978.3,446.8 978.4,448.8 978.6,450.8 978.8,452.8 978.9,454.8 979.1,456.8 979.3,458.8 979.4,460.8 979.6,462.8 979.8,464.8 979.9,466.8 980.1,468.8 980.3,470.8 980.4,472.7 980.6,474.7 980.8,476.7 981,478.7 981.1,480.7 981.3,482.7 981.5,484.7 981.6,486.7 981.8,488.7 982,490.7 982.2,492.7 982.4,494.7 982.5,496.7 982.7,498.7 982.9,500.6 983.1,502.6 983.3,504.6 983.5,506.6 983.7,508.6 983.9,510.6 984.1,512.6 984.3,514.6 984.5,516.6 984.7,518.6 984.9,520.6 985.1,522.5 985.3,524.5 985.6,526.5 985.8,528.5 986,530.5 986.2,532.5 986.5,534.5 986.7,536.5 986.9,538.4 987.2,540.4 987.4,542.4 987.7,544.4 987.9,546.4 988.2,548.4 988.4,550.4 988.7,552.3 989,554.3 989.2,556.3 989.5,558.3 989.8,560.3 990.1,562.2 990.3,564.2 990.6,566.2 990.9,568.2 991.2,570.2 991.5,572.1 991.9,574.1 992.2,576.1 992.5,578.1 992.8,580"/>
<path stroke="#000" stroke-width="12.6" stroke-dasharray="0 10.84 12.6 11 12.6 11 12.6 11 12.6 11 12.6 11 12.6 11 12.6 11 12.6 11 12.6 11 12.6 11 12.6 11 12.6 11 12.6 11 12.6 10.99 12.59 10.99 12.57 10.96 12.52 10.88 12.36 10.69 12.18 10.61 12.15 10.64 12.26 10.77 12.37 10.75 12.18 10.62 12.25 10.73 12.23 10.61 12.18 10.75 12.48 10.96 12.58 10.99 12.59 11 12.6 11 12.6 11 12.6 11 12.6 11 12.6 11 12.6 11 12.6 11 12.56 58.32" d="M992.8,580 993.3,579.6 994,577.6 994.5,575.7 995.1,573.8 995.6,571.9 996.1,569.9 996.5,568 996.9,566 997.3,564.1 997.7,562.1 998,560.1 998.4,558.2 998.6,556.2 998.9,554.2 999.2,552.2 999.4,550.2 999.6,548.2 999.8,546.2 1000,544.2 1000.2,542.3 1000.3,540.3 1000.5,538.3 1000.6,536.3 1000.8,534.3 1000.9,532.3 1001,530.3 1001.1,528.3 1001.2,526.3 1001.3,524.3 1001.5,522.3 1001.6,520.3 1001.7,518.3 1001.8,516.3 1002,514.3 1002.1,512.3 1002.2,510.3 1002.4,508.3 1002.6,506.3 1002.7,504.3 1002.9,502.3 1003.1,500.3 1003.2,498.4 1003.4,496.4 1003.6,494.4 1003.8,492.4 1004,490.4 1004.1,488.4 1004.3,486.4 1004.5,484.4 1004.7,482.4 1004.9,480.4 1005.1,478.4 1005.3,476.4 1005.5,474.5 1005.7,472.5 1005.9,470.5 1006.1,468.5 1006.4,466.5 1006.6,464.5 1006.8,462.5 1007,460.5 1007.2,458.5 1007.4,456.5 1007.6,454.6 1007.8,452.6 1008,450.6 1008.2,448.6 1008.4,446.6 1008.6,444.6 1008.8,442.6 1009,440.6 1009.2,438.6 1009.4,436.6 1009.5,434.6 1009.7,432.7 1009.9,430.7 1010.1,428.7 1010.3,426.7 1010.5,424.7 1010.8,422.7 1011,420.7 1011.2,418.7 1011.4,416.7 1011.6,414.7 1011.8,412.8 1012,410.8 1012.2,408.8 1012.4,406.8 1012.6,404.8 1012.8,402.8 1013.1,400.8 1013.3,398.8 1013.5,396.8 1013.7,394.9 1013.9,392.9 1014.2,390.9 1014.4,388.9 1014.6,386.9 1014.9,384.9 1015.1,382.9 1015.3,380.9 1015.6,379 1015.8,377 1016.1,375 1016.3,373 1016.6,371 1016.9,369 1017.1,367.1 1017.4,365.1 1017.7,363.1 1017.9,361.1 1018.2,359.1 1018.5,357.1 1018.8,355.2 1019.1,353.2 1019.4,351.2 1019.7,349.2 1020,347.3 1020.3,345.3 1020.6,343.3 1020.9,341.3 1021.2,339.4 1021.6,337.4 1021.9,335.4 1022.2,333.4 1022.6,331.5 1022.9,329.5 1023.3,327.5 1023.7,325.6 1024,323.6 1024.4,321.6 1024.8,319.7 1025.2,317.7 1025.5,315.7 1025.9,313.8 1026.3,311.8 1026.8,309.9 1027.2,307.9 1027.6,305.9 1028,304 1028.5,302 1028.9,300.1 1029.4,298.1 1029.8,296.2 1030.3,294.2 1030.8,292.3 1031.2,290.4 1031.7,288.4 1032.2,286.5 1032.7,284.5 1033.3,282.6 1033.8,280.7 1034.3,278.8 1034.8,276.8 1035.4,274.9 1035.9,273 1036.5,271.1 1037.1,269.1 1037.7,267.2 1038.2,265.3 1038.8,263.4 1039.5,261.5 1040.1,259.6 1040.7,257.7 1041.3,255.8 1042,253.9 1042.6,252 1043.3,250.1 1044,248.2 1044.7,246.4 1045.3,244.5 1046,242.6 1046.8,240.8 1047.5,238.9 1048.2,237 1049,235.2 1049.8,233.3 1050.5,231.5 1051.3,229.7 1052.2,227.8 1053,226 1053.9,224.2 1054.7,222.4 1055.6,220.6 1056.6,218.8 1057.5,217.1 1058.5,215.3 1059.5,213.6 1060.5,211.9 1061.5,210.2 1062.6,208.5 1063.7,206.8 1064.8,205.1 1066,203.5 1067.1,201.9 1068.3,200.3 1069.6,198.7 1070.9,197.2 1072.2,195.7 1073.5,194.2 1074.8,192.7 1076.2,191.3 1077.7,189.9 1079.1,188.5 1080.6,187.2 1082.2,185.9 1083.7,184.7 1085.3,183.5 1087,182.3 1088.7,181.2 1090.4,180.2 1092.2,179.3 1094,178.4 1095.8,177.6 1097.6,176.8 1099.5,176.2 1101.4,175.5 1103.3,175 1105.3,174.5 1107.2,174 1109.2,173.6 1111.1,173.3 1113.1,172.9 1115.1,172.7 1117.1,172.4 1119.1,172.3 1121.1,172.1 1123.1,172 1125.1,172 1127.1,172 1129.1,172 1131.1,172.1 1133.1,172.3 1135.1,172.5 1137,172.7 1139,173 1141,173.4 1142.9,173.9 1144.9,174.4 1146.8,174.9 1148.7,175.6 1150.6,176.3 1152.4,177 1154.3,177.8 1156.1,178.6 1157.9,179.5 1159.6,180.4 1161.4,181.4 1163.1,182.4 1164.8,183.4 1166.5,184.5 1168.2,185.6 1169.9,186.7 1171.5,187.9 1173.2,189 1174.8,190.1 1176.5,191.2 1178.1,192.3 1179.8,193.4 1181.5,194.4 1183.3,195.4 1185.1,196.3 1186.9,197.2 1188.7,197.9 1190.6,198.5 1192.6,199 1194.6,199.4 1196.5,199.6 1198.5,199.7 1200.5,199.7 1202.5,199.5 1204.5,199.3 1206.5,198.9 1208.4,198.5 1210.4,198 1212.3,197.4 1214.2,196.8 1216,196 1217.9,195.3 1219.7,194.5 1221.5,193.6 1223.3,192.8 1225.2,191.9 1227,191 1228.8,190.2 1230.6,189.3 1232.4,188.5 1234.2,187.7 1236.1,187 1238,186.3 1239.9,185.7 1241.8,185.2 1243.8,184.7 1245.7,184.4 1247.7,184.1 1249.7,184 1251.7,184 1253.7,184 1255.7,184.2 1257.7,184.5 1259.7,184.8 1261.6,185.3 1263.5,185.8 1265.4,186.5 1267.3,187.3 1269.1,188.1 1270.8,189.1 1272.5,190.1 1274.2,191.3 1275.7,192.5 1277.3,193.8 1278.7,195.2 1280.1,196.6 1281.4,198.1 1282.7,199.7 1283.9,201.2 1285.1,202.9 1286.2,204.5 1287.3,206.2 1288.3,207.9 1289.3,209.7 1290.2,211.4 1291.2,213.2 1292,215 1292.9,216.8 1293.7,218.6 1294.5,220.5 1295.3,222.3 1296.1,224.2 1296.8,226 1297.6,227.9 1298.3,229.7 1299,231.6 1299.7,233.5 1300.4,235.4 1301.1,237.2 1301.8,239.1 1302.4,241 1303.1,242.9 1303.7,244.8 1304.4,246.7 1305,248.6 1305.6,250.5 1306.3,252.4 1306.9,254.3 1307.5,256.2 1308.1,258.1 1308.7,260 1309.3,261.9 1309.8,263.8 1310.4,265.8 1311,267.7 1311.5,269.6 1312.1,271.5 1312.6,273.4 1313.2,275.4 1313.7,277.3 1314.3,279.2 1314.8,281.1 1315.3,283.1 1315.8,285 1316.3,286.9 1316.9,288.9 1317.4,290.8 1317.9,292.8 1318.4,294.7 1318.9,296.6 1319.3,298.6 1319.8,300.5 1320.3,302.4 1320.8,304.4 1321.3,306.3 1321.8,308.3 1322.2,310.2 1322.7,312.2 1323.2,314.1 1323.7,316 1324.1,318 1324.6,319.9 1325.1,321.9 1325.6,323.8 1326,325.8 1326.5,327.7 1327,329.7 1327.4,331.6 1327.9,333.5 1328.4,335.5 1328.9,337.4 1329.4,339.4 1329.8,341.3 1330.3,343.3 1330.8,345.2 1331.3,347.1 1331.7,349.1 1332.2,351 1332.7,353 1333.2,354.9 1333.7,356.9 1334.1,358.8 1334.6,360.7 1335.1,362.7 1335.6,364.6 1336,366.6 1336.5,368.5 1337,370.5 1337.4,372.4 1337.9,374.4 1338.3,376.3 1338.8,378.2 1339.3,380.2 1339.7,382.1 1340.1,384.1 1340.6,386 1341,388 1341.5,390 1341.9,391.9 1342.3,393.9 1342.8,395.8 1343.2,397.8 1343.7,399.7 1344.2,401.6 1344.7,403.6 1345.2,405.5 1345.8,407.4 1346.5,409.3 1347.1,411.2 1347.9,413 1348.7,414.9 1349.6,416.7 1350.5,418.4 1351.6,420.1 1352.7,421.8 1353.9,423.4 1355.2,424.9 1356.6,426.4 1358,427.7 1359.6,429 1360.4,429.6"/>
<path stroke="#000" stroke-width="12.6" stroke-dasharray="10.33 10.99 12.6 11 12.6 11 12.6 11 12.6 11 12.6 10.99 12.55 10.96 12.54 10.92 12.43 10.7 12.17 10.72 12.35 10.79 12.24 10.62 12.37 10.93 12.56 10.95 12.5 10.84 12.31 10.67 12.16 10.61 12.22 10.76 12.41 10.89 12.53 10.97 12.58 10.99 12.59 11 12.6 11 12.6 11 12.6 11 12.6 11 12.6 11 12.6 10.99 12.45 53.82" d="M1360.4,429.6 1361.9,428.8 1363.3,427.4 1364.6,425.9 1365.8,424.3 1367,422.6 1368,420.9 1368.9,419.1 1369.7,417.3 1370.4,415.4 1371,413.5 1371.6,411.6 1372.2,409.7 1372.7,407.7 1373.2,405.8 1373.7,403.9 1374.2,401.9 1374.8,400 1375.3,398.1 1375.9,396.2 1376.4,394.2 1377,392.3 1377.6,390.4 1378.2,388.5 1378.7,386.6 1379.3,384.7 1379.9,382.7 1380.4,380.8 1381,378.9 1381.6,377 1382.1,375.1 1382.6,373.1 1383.2,371.2 1383.7,369.3 1384.2,367.3 1384.7,365.4 1385.2,363.5 1385.7,361.5 1386.2,359.6 1386.7,357.6 1387.2,355.7 1387.6,353.8 1388.1,351.8 1388.6,349.9 1389,347.9 1389.5,346 1389.9,344 1390.4,342.1 1390.8,340.1 1391.3,338.2 1391.7,336.2 1392.2,334.3 1392.6,332.3 1393.1,330.4 1393.6,328.4 1394,326.5 1394.5,324.5 1394.9,322.6 1395.4,320.7 1395.9,318.7 1396.4,316.8 1396.9,314.8 1397.5,312.9 1398.1,311 1398.7,309.1 1399.4,307.2 1400.2,305.4 1400.9,303.5 1401.8,301.7 1402.7,300 1403.8,298.2 1404.8,296.6 1406,294.9 1407.1,293.3 1408.2,291.6 1409.3,289.9 1410.4,288.3 1411.5,286.6 1412.6,284.9 1413.7,283.2 1414.8,281.5 1415.9,279.9 1417,278.2 1418.1,276.6 1419.3,274.9 1420.4,273.3 1421.6,271.7 1422.8,270.1 1424.1,268.5 1425.3,267 1426.6,265.4 1427.9,263.9 1429.3,262.4 1430.6,261 1432,259.6 1433.5,258.2 1435,256.8 1436.5,255.5 1438,254.3 1439.7,253.1 1441.4,252 1443.1,251.1 1444.9,250.2 1446.8,249.5 1448.7,248.9 1450.7,248.6 1452.7,248.4 1454.7,248.4 1456.6,248.6 1458.6,249 1460.6,249.5 1462.5,250.1 1464.3,250.7 1466.2,251.5 1468,252.3 1469.8,253.2 1471.6,254.2 1473.3,255.1 1475,256.2 1476.7,257.2 1478.4,258.3 1480.1,259.4 1481.7,260.5 1483.4,261.7 1485.1,262.8 1486.7,263.9 1488.4,264.9 1490.1,266 1491.9,266.9 1493.7,267.8 1495.5,268.7 1497.4,269.4 1499.3,270 1501.2,270.5 1503.2,270.8 1505.2,271 1507.2,271 1509.2,270.8 1511.1,270.5 1513,269.9 1514.9,269.1 1516.7,268.2 1518.4,267.2 1520,266 1521.6,264.7 1523,263.4 1524.5,262 1525.8,260.5 1527.1,259 1528.3,257.4 1529.5,255.8 1530.6,254.1 1531.7,252.4 1532.7,250.7 1533.8,249 1534.8,247.3 1535.9,245.6 1536.9,243.9 1538,242.2 1539.1,240.6 1540.3,238.9 1541.4,237.3 1542.6,235.7 1543.8,234.1 1545.1,232.6 1546.4,231 1547.7,229.5 1549.1,228 1550.5,226.6 1551.9,225.2 1553.4,223.9 1554.9,222.5 1556.4,221.3 1558,220.1 1559.7,218.9 1561.3,217.8 1563,216.8 1564.8,215.8 1566.5,214.9 1568.3,214 1570.2,213.2 1572,212.4 1573.9,211.7 1575.8,211 1577.7,210.4 1579.6,209.9 1581.5,209.4 1583.5,209 1585.5,208.6 1587.4,208.3 1589.4,208.1 1591.4,207.9 1593.4,207.9 1595.4,207.9 1597.4,207.9 1599.4,208.1 1601.4,208.3 1603.4,208.7 1605.3,209.1 1607.3,209.6 1609.2,210.2 1611.1,210.8 1612.9,211.6 1614.8,212.3 1616.6,213.2 1618.4,214.1 1620.1,215 1621.9,216 1623.6,217.1 1625.3,218.2 1626.9,219.3 1628.5,220.4 1630.1,221.7 1631.7,222.9 1633.2,224.2 1634.8,225.5 1636.2,226.8 1637.7,228.2 1639.1,229.7 1640.4,231.1 1641.8,232.6 1643.1,234.1 1644.4,235.6 1645.6,237.2 1646.8,238.8 1648,240.4 1649.2,242 1650.3,243.7 1651.4,245.4 1652.5,247.1 1653.5,248.8 1654.5,250.5 1655.5,252.2 1656.5,254 1657.4,255.8 1658.3,257.5 1659.2,259.3 1660.1,261.1 1660.9,262.9 1661.8,264.8 1662.6,266.6 1663.4,268.4 1664.1,270.3 1664.9,272.1 1665.6,274 1666.4,275.8 1667.1,277.7 1667.8,279.6 1668.5,281.5 1669.2,283.3 1669.9,285.2 1670.5,287.1 1671.2,289 1671.8,290.9 1672.5,292.8 1673.1,294.7 1673.8,296.6 1674.4,298.5 1675,300.4 1675.6,302.3 1676.3,304.2 1676.9,306.1 1677.5,308 1678.2,309.9 1678.8,311.8 1679.4,313.7 1680.1,315.6 1680.7,317.5 1681.3,319.4 1682,321.3 1682.6,323.1 1683.2,325 1683.9,326.9 1684.5,328.8 1685.1,330.7 1685.8,332.6 1686.4,334.5 1687,336.4 1687.7,338.3 1688.3,340.2 1688.9,342.1 1689.6,344 1690.2,345.9 1690.8,347.8 1691.4,349.7 1692.1,351.6 1692.7,353.5 1693.3,355.4 1693.9,357.3 1694.5,359.2 1695.1,361.1 1695.7,363.1 1696.3,365 1696.9,366.9 1697.5,368.8 1698.1,370.7 1698.7,372.6 1699.3,374.5 1699.8,376.4 1700.4,378.4 1701,380.3 1701.5,382.2 1702.1,384.1 1702.6,386 1703.2,388 1703.7,389.9 1704.2,391.8 1704.8,393.8 1705.3,395.7 1705.8,397.6 1706.3,399.6 1706.8,401.5 1707.3,403.4 1707.8,405.4 1708.3,407.3 1708.8,409.3 1709.2,411.2 1709.7,413.1 1710.2,415.1 1710.8,417 1711.3,418.9 1711.9,420.8 1712.6,422.7 1713.3,424.6 1714.1,426.4 1715,428.2 1715.9,430 1716.9,431.7 1718.1,433.3 1719.3,434.9 1720.7,436.3 1722.3,437.6 1724,438.6 1725.9,439.1 1727.9,439 1728.9,438.7"/>
<path stroke="#000" stroke-width="12.6" stroke-dasharray="10.38 10.94 12.52 10.94 12.55 10.96 12.55 10.94 12.5 10.87 12.41 10.8 12.33 10.74 0.62 50" d="M1728.9,438.7 1730.7,438 1732.5,437 1734,435.7 1735.5,434.4 1736.9,432.9 1738.2,431.4 1739.5,429.9 1740.7,428.3 1741.9,426.7 1743.1,425.1 1744.3,423.5 1745.5,421.9 1746.8,420.4 1748.1,418.8 1749.4,417.3 1750.7,415.8 1752,414.3 1753.3,412.7 1754.5,411.2 1755.7,409.6 1756.9,408 1758.1,406.4 1759.3,404.7 1760.4,403.1 1761.6,401.5 1762.7,399.8 1763.8,398.2 1765,396.5 1766.1,394.8 1767.2,393.2 1768.3,391.5 1769.4,389.9 1770.5,388.2 1771.7,386.6 1772.8,384.9 1773.9,383.3 1775.1,381.6 1776.2,380 1777.4,378.3 1778.6,376.7 1779.7,375.1 1780.9,373.5 1782.2,371.9 1783.4,370.3 1784.6,368.8 1785.9,367.2 1787.2,365.7 1788.5,364.2 1789.8,362.7 1791.2,361.2 1792.6,359.8 1794,358.3 1795.4,356.9 1796.8,355.5 1798.3,354.2 1799.8,352.9 1801.3,351.5 1802.8,350.3 1804.4,349 1805.9,347.8 1807.5,346.5 1809.1,345.4 1810.8,344.2 1812.4,343 1814,341.9 1815.7,340.8 1817.4,339.7 1819.1,338.6 1820.8,337.5 1822.5,336.5 1824.2,335.5 1825.9,334.5 1827.6,333.5 1829.4,332.5 1831.1,331.5 1832.9,330.6 1834.7,329.6 1836.4,328.7 1838.2,327.8 1840,326.9 1841.8,326"/>
<path stroke="#ff0000" stroke-width="12.6" stroke-dasharray="12.6 4 12.6 4 12.6 4 12.6 4 12.6 4 12.6 4 12.6 4 12.6 4 12.6 4 12.6 4 12.6 4 12.6 4 12.6 4 12.6 4 12.6 4 12.6 4 12.6 4 12.6 4 12.6 4 7.23 50" d="M246.1,44.5 248.1,44.5 250.1,44.5 252.1,44.5 254.1,44.5 256.1,44.5 258.1,44.5 260.1,44.5 262.1,44.5 264.1,44.5 266.1,44.6 268.1,44.7 270.1,44.8 272.1,45 274.1,45.1 276.1,45.2 278.1,45.3 280.1,45.4 282.1,45.4 284.1,45.5 286.1,45.6 288.1,45.8 289.9,46.6 291.4,47.9 292.7,49.4 294,51 295.1,52.6 296,54.4 296.9,56.2 297.9,57.9 299.1,59.5 300.9,59.7 302.4,58.4 303.8,56.9 305.3,55.7 307.2,55.5 309,56.4 310.5,57.8 311.9,59.2 313.4,60.5 314.9,61.8 316.4,63.1 317.9,64.4 319.5,65.7 321.3,66.5 323,65.7 323.9,64 324.6,62.1 325.2,60.2 325.9,58.3 326.6,56.4 327.5,54.7 328.8,54.8 329.6,56.6 330.1,58.6 330.4,60.5 330.8,62.5 331.1,64.5 331.4,66.5 331.7,68.4 332.1,70.4 332.4,72.4 332.7,74.4 333.1,76.3 333.6,78.3 334.3,80.1 335.4,79.2 336.1,77.4 336.6,75.4 337,73.4 337.4,71.5 337.7,69.5 338.1,67.5 338.5,65.6 338.9,63.6 339.5,61.7 340.5,60.1 342.4,60.6 343.9,61.9 345.4,63.3 346.7,64.7 348.1,66.1 349.4,67.7 350.6,69.3 351.7,71 352.9,72.6 354.3,74 356.1,74.6 357.7,73.5 358.9,71.9 359.9,70.2 360.9,68.4 361.9,66.7 363,65 364.4,63.6 366.2,63.8 367.5,65.3 368.4,67.1 369.3,68.9 370,70.8 370.8,72.6 371.6,74.5 372.4,76.3 373.4,78 374.7,79.5 376.6,79.6 378.3,78.5 379.8,77.2 381.1,75.7 382.5,74.2 383.8,72.7 385.1,71.3 386.7,70 388.5,69.1 390.1,69.9 391,71.6 391.7,73.5 392.2,75.4 392.8,77.4 393.3,79.3 393.8,81.2 394.4,83.1 395.1,85 396,86.8 397.8,87.1 399.4,85.9 400.7,84.4 402,82.9 403.5,81.6 405.4,81.1 406.8,82.4 407.9,84.1 408.9,85.9 409.8,87.6 410.9,89.3 412.5,90.5 414.2,89.6 415.6,88.1 416.7,86.5 417.7,84.8 418.8,83.1 420.1,81.5 421.7,80.5 423.5,81.1 425,82.5 426.3,84 427.6,85.5 429.1,86.8 431.1,86.9 433,86.5 434.9,85.8 436.8,85.1 438.7,84.5 440.7,84.2 442.6,84.8 444.1,86.1 445.4,87.6 446.8,89 448.4,90.2 450.1,91.3 451.9,92.2 453.7,93.1 455.5,93.9"/>
<path stroke="#ff0000" stroke-width="12.6" stroke-dasharray="7.17 7.22 13.01 7.07 12.99 7.07 13.02 7.11 13.15 7.21 13.38 53.67" d="M455.5,93.9 457.5,94.3 459.5,94.5 461.4,94.8 463.4,95 465.4,95.1 467.4,95.3 469.4,95.4 471.4,95.5 473.4,95.5 475.4,95.6 477.4,95.6 479.4,95.6 481.4,95.6 483.4,95.6 485.4,95.6 487.4,95.6 489.4,95.6 491.4,95.7 493.4,95.7 495.4,95.7 497.4,95.8 499.4,95.9 501.4,96 503.4,96.1 505.4,96.3 507.4,96.5 509.4,96.7 511.4,96.9 513.4,97.2 515.3,97.6 517.3,98 519.3,98.4 521.2,98.9 523.1,99.4 525.1,100 527,100.6 528.9,101.2 530.7,102 532.6,102.7 534.4,103.5 536.2,104.3 538,105.2 539.8,106.2 541.5,107.1 543.3,108.2 544.9,109.3 546.6,110.4 548.2,111.6 549.8,112.8 551.4,114 552.9,115.4 554.3,116.7 555.7,118.1 557.1,119.6 558.5,121.1 559.7,122.6"/>
<path stroke="#ff0000" stroke-width="12.6" stroke-dasharray="0 8.55 12.56 10.98 12.58 10.99 12.58 10.98 12.58 10.98 12.59 10.99 12.59 10.99 12.49 59.69" d="M559.7,122.6 561,124.2 562.2,125.8 563.3,127.4 564.4,129.1 565.5,130.8 566.5,132.5 567.6,134.2 568.5,136 569.5,137.7 570.4,139.5 571.3,141.3 572.1,143.1 573,144.9 573.8,146.7 574.6,148.6 575.4,150.4 576.2,152.3 577,154.1 577.8,155.9 578.5,157.8 579.3,159.6 580.1,161.5 580.8,163.3 581.6,165.2 582.3,167 583.1,168.9 583.9,170.7 584.7,172.6 585.5,174.4 586.3,176.2 587.1,178.1 587.9,179.9 588.8,181.7 589.6,183.5 590.4,185.4 591.3,187.2 592.1,189 592.9,190.8 593.8,192.6 594.6,194.4 595.5,196.3 596.3,198.1 597.2,199.9 598,201.7 598.8,203.5 599.6,205.4 600.5,207.2 601.3,209 602.1,210.9 602.8,212.7 603.6,214.5 604.4,216.4 605.1,218.2 605.9,220.1 606.6,222 607.3,223.8 608,225.7 608.7,227.6 609.4,229.5 610.1,231.4 610.7,233.2 611.4,235.1 612.1,237 612.7,238.9 613.3,240.8 614,242.7 614.6,244.6 615.2,246.5 615.9,248.4 616.5,250.3 617.2,252.2 617.9,254.1 618.6,255.9 619.4,257.8 620.3,259.6 621.2,261.4 622.2,263.1 623.3,264.8 624.5,266.4 625.8,267.8 627.3,269.1 629,270.2 630.8,271 632.8,271.6 634.7,271.8 636.7,271.7"/>
<path stroke="#ff0000" stroke-width="12.6" stroke-dasharray="6.32 10.97 12.58 10.98 12.58 10.98 12.57 10.97 12.54 10.92 12.45 10.79 12.24 10.58 12.01 10.42 11.9 10.42 12.05 10.61 12.2 10.63 12.09 10.45 11.89 10.39 11.93 10.41 11.88 10.36 11.91 10.51 12.23 10.78 12.39 10.83 12.44 10.93 12.58 10.95 12.46 10.72 7.49 50" d="M636.7,271.7 638.7,271.1 640.4,270.1 641.8,268.7 643,267.1 644,265.4 644.9,263.6 645.8,261.8 646.6,260 647.4,258.1 648.2,256.3 649,254.5 649.8,252.6 650.6,250.8 651.4,249 652.2,247.1 653,245.3 653.8,243.5 654.7,241.7 655.5,239.8 656.3,238 657.1,236.2 657.9,234.4 658.7,232.5 659.5,230.7 660.4,228.9 661.2,227 662,225.2 662.8,223.4 663.6,221.5 664.4,219.7 665.3,217.9 666.1,216.1 666.9,214.3 667.8,212.5 668.7,210.7 669.5,208.9 670.4,207.1 671.3,205.3 672.2,203.5 673.1,201.7 674.1,199.9 675,198.2 676,196.4 677,194.7 678,192.9 679,191.2 680,189.5 681.1,187.8 682.1,186.1 683.2,184.4 684.3,182.8 685.5,181.1 686.7,179.5 687.8,177.9 689.1,176.3 690.3,174.7 691.6,173.2 692.9,171.7 694.2,170.2 695.5,168.7 696.9,167.2 698.3,165.8 699.8,164.4 701.2,163 702.7,161.7 704.2,160.4 705.8,159.2 707.4,157.9 709,156.7 710.6,155.6 712.3,154.5 714,153.4 715.7,152.4 717.5,151.4 719.2,150.5 721,149.6 722.9,148.8 724.7,148 726.5,147.2 728.4,146.5 730.3,145.9 732.2,145.3 734.1,144.7 736.1,144.2 738,143.8 740,143.4 742,143 743.9,142.7 745.9,142.5 747.9,142.3 749.9,142.1 751.9,142.1 753.9,142 755.9,142.1 757.9,142.2 759.9,142.4 761.9,142.6 763.9,142.9 765.8,143.3 767.8,143.8 769.7,144.3 771.6,144.9 773.5,145.5 775.4,146.2 777.2,147 779.1,147.8 780.9,148.7 782.7,149.6 784.4,150.5 786.2,151.5 787.9,152.5 789.6,153.5 791.3,154.6 793,155.6 794.7,156.7 796.4,157.7 798.1,158.8 799.8,159.9 801.5,160.9 803.2,162 805,163 806.7,164 808.4,165 810.2,166 811.9,166.9 813.7,167.8 815.5,168.7 817.3,169.5 819.2,170.3 821.1,171 822.9,171.7 824.9,172.3 826.8,172.8 828.7,173.3 830.7,173.7 832.7,174.1 834.6,174.3 836.6,174.5 838.6,174.7 840.6,174.7 842.6,174.7 844.6,174.6 846.6,174.4 848.6,174.1 850.6,173.8 852.6,173.5 854.5,173.1 856.5,172.7 858.4,172.3 860.4,171.8 862.3,171.4 864.3,170.9 866.2,170.5 868.2,170.1 870.2,169.7 872.1,169.3 874.1,168.9 876.1,168.6 878,168.3 880,168.1 882,167.9 884,167.7 886,167.6 888,167.5 890,167.4 892,167.5 894,167.5 896,167.7 898,167.9 900,168.1 902,168.4 903.9,168.8 905.9,169.3 907.8,169.8 909.7,170.4 911.6,171.1 913.5,171.8 915.3,172.6 917.1,173.5 918.9,174.5 920.6,175.5 922.3,176.6 923.9,177.7 925.5,178.9 927.1,180.1 928.6,181.4 930.1,182.7 931.6,184.1 933.1,185.4 934.5,186.8 936,188.2 937.4,189.6 938.8,191 940.2,192.4 941.6,193.9 943,195.3 944.4,196.7 945.8,198.2 947.2,199.6 948.6,201 950,202.5 951.4,204 952.7,205.4 954.1,206.9 955.4,208.4 956.7,209.9 958,211.4 959.3,213 960.5,214.5 961.7,216.1 962.9,217.7 964.1,219.4 965.1,221.1 966,222.9 966.8,224.7 967.6,226.6 968.3,228.4 969,230.3 969.7,232.2 970.5,234 971.4,235.8 972.3,237.6 973.3,239.3 974.4,241 975.5,242.7 976.6,244.4 977.7,246 978.9,247.6 980.1,249.2 981.3,250.8 982.6,252.3 984,253.8 985.4,255.2 986.9,256.5 988.4,257.8 990,259.1 991.6,260.2 993.3,261.3 995.1,262.3 996.9,263.2 998.7,264 999.6,264.4"/>
<path stroke="#ff0000" stroke-width="12.6" stroke-dasharray="0 8.17 11.88 10.62 12.36 10.8 12.35 10.74 12.24 10.62 12.08 10.48 11.93 10.37 11.85 10.34 11.89 10.45 12.11 10.69 12.28 54.91" d="M999.6,264.4 1001.5,265.1 1003.4,265.7 1005.3,266.2 1007.3,266.5 1009.3,266.8 1011.3,266.9 1013.3,266.8 1015.3,266.6 1017.2,266.2 1019.1,265.6 1021,264.8 1022.7,263.8 1024.4,262.8 1026.1,261.6 1027.7,260.4 1029.2,259.1 1030.7,257.8 1032.2,256.4 1033.6,255.1 1035,253.7 1036.4,252.2 1037.9,250.8 1039.3,249.4 1040.7,248 1042.2,246.6 1043.6,245.2 1045,243.9 1046.5,242.5 1047.9,241.1 1049.4,239.7 1050.9,238.4 1052.4,237 1053.9,235.7 1055.4,234.4 1056.9,233.1 1058.4,231.8 1059.9,230.5 1061.5,229.2 1063.1,228 1064.7,226.8 1066.3,225.6 1067.9,224.4 1069.5,223.2 1071.2,222.1 1072.8,221 1074.5,219.9 1076.2,218.9 1077.9,217.8 1079.6,216.8 1081.4,215.8 1083.2,214.9 1084.9,214 1086.7,213.1 1088.5,212.2 1090.3,211.4 1092.2,210.6 1094,209.8 1095.9,209 1097.7,208.3 1099.6,207.6 1101.5,207 1103.4,206.4 1105.3,205.8 1107.2,205.2 1109.2,204.7 1111.1,204.2 1113.1,203.7 1115,203.3 1117,202.9 1118.9,202.5 1120.9,202.2 1122.9,201.9 1124.9,201.7 1126.9,201.5 1128.9,201.3 1130.9,201.2 1132.9,201.1 1134.9,201 1136.9,201 1138.9,201.1 1140.9,201.2 1142.9,201.3 1144.9,201.5 1146.9,201.7 1148.8,202 1150.8,202.3 1152.8,202.7 1154.7,203.1 1156.7,203.6 1158.6,204.2 1160.5,204.7 1162.4,205.4 1164.3,206.1 1166.2,206.8 1168,207.6 1169.8,208.4 1171.6,209.3 1173.4,210.3 1175.1,211.2 1176.8,212.3 1178.5,213.4 1180.1,214.5 1181.8,215.7 1183.4,216.9 1185,218.1 1186.5,219.3 1188.1,220.6 1189.7,221.8 1191.2,223.1 1192.8,224.4 1194.3,225.6 1195.9,226.8 1197.5,228 1199.1,229.2 1199.9,229.8"/>
<path stroke="#ff0000" stroke-width="12.6" stroke-dasharray="0 5.19 12.02 10.35 12.01 10.71 12.29 10.54 11.88 10.38 12.06 10.7 12.38 10.86 12.45 10.86 12.4 10.75 12.19 10.48 11.86 10.4 12.02 10.56 4.88 50" d="M1199.9,229.8 1201.6,230.9 1203.3,232 1205,233.1 1206.7,234 1208.5,234.9 1210.4,235.7 1212.3,236.3 1214.2,236.9 1216.1,237.3 1218.1,237.6 1220.1,237.7 1222.1,237.6 1224.1,237.4 1226.1,237.1 1228,236.6 1229.9,236 1231.8,235.3 1233.6,234.5 1235.4,233.6 1237.2,232.6 1238.9,231.6 1240.5,230.4 1242.1,229.2 1243.6,227.9 1245.1,226.5 1246.5,225.2 1248,223.8 1249.5,222.5 1251.1,221.2 1252.7,220 1254.4,218.9 1256.1,217.9 1257.8,216.9 1259.6,216 1261.4,215.2 1263.3,214.5 1265.2,213.8 1267.1,213.3 1269.1,212.9 1271.1,212.6 1273.1,212.5 1275.1,212.4 1277.1,212.5 1279,212.7 1281,213 1283,213.4 1284.9,213.9 1286.8,214.5 1288.7,215.2 1290.6,216 1292.4,216.8 1294.2,217.7 1295.9,218.7 1297.6,219.8 1299.3,220.9 1300.9,222 1302.5,223.2 1304.1,224.5 1305.6,225.8 1307.1,227.1 1308.6,228.5 1310,229.9 1311.4,231.3 1312.8,232.7 1314.2,234.2 1315.5,235.7 1316.8,237.1 1318.2,238.6 1319.5,240.2 1320.8,241.7 1322.1,243.2 1323.4,244.7 1324.6,246.3 1325.9,247.8 1327.2,249.4 1328.5,250.9 1329.8,252.4 1331.1,254 1332.4,255.5 1333.7,257 1335,258.5 1336.3,260 1337.6,261.5 1339,263 1340.4,264.4 1341.8,265.9 1343.2,267.3 1344.6,268.7 1346.1,270 1347.5,271.4 1349,272.7 1350.6,274 1352.1,275.3 1353.7,276.5 1355.3,277.7 1357,278.8 1358.6,279.9 1360.3,281 1362,282 1363.8,283 1365.6,283.8 1367.4,284.7 1369.3,285.4 1371.2,286 1373.1,286.6 1375.1,287 1377.1,287.3 1379.1,287.5 1381.1,287.5 1383.1,287.4 1385,287.3 1387,287 1389,286.6 1390.9,286.2 1392.9,285.6 1394.8,285 1396.7,284.4 1398.6,283.7 1400.4,283 1402.3,282.2 1404.1,281.4 1405.9,280.5 1407.7,279.7 1409.5,278.8 1411.3,277.9 1413.1,276.9 1414.8,276 1416.6,275 1418.3,274.1 1420.1,273.1"/>
<path stroke="#ff0000" stroke-width="12.6" stroke-dasharray="6.44 10.56 12 10.37 11.84 10.36 11.9 10.41 11.92 10.37 11.85 10.41 12 10.5 12.01 10.45 11.91 10.35 11.87 10.5 12.1 10.59 1.48 50" d="M1420.1,273.1 1421.8,272.1 1423.6,271.1 1425.3,270.2 1427.1,269.2 1428.9,268.3 1430.6,267.4 1432.4,266.4 1434.2,265.6 1436,264.7 1437.9,263.9 1439.7,263.1 1441.6,262.4 1443.5,261.7 1445.4,261.1 1447.3,260.6 1449.2,260.1 1451.2,259.7 1453.2,259.4 1455.2,259.2 1457.2,259 1459.2,258.9 1461.2,258.9 1463.2,258.9 1465.2,258.9 1467.2,259 1469.2,259.2 1471.1,259.4 1473.1,259.6 1475.1,259.9 1477.1,260.2 1479.1,260.5 1481,260.9 1483,261.3 1484.9,261.7 1486.9,262.2 1488.9,262.6 1490.8,263.1 1492.7,263.6 1494.7,264.1 1496.6,264.6 1498.5,265.1 1500.5,265.6 1502.4,266.1 1504.3,266.7 1506.3,267.2 1508.2,267.7 1510.2,268.2 1512.1,268.6 1514,269.1 1516,269.5 1518,269.8 1520,270.2 1521.9,270.4 1523.9,270.6 1525.9,270.6 1527.9,270.6 1529.9,270.6 1531.9,270.3 1533.9,270.1 1535.9,269.7 1537.8,269.2 1539.8,268.7 1541.7,268.1 1543.6,267.5 1545.5,266.8 1547.3,266.1 1549.2,265.4 1551.1,264.7 1552.9,263.9 1554.8,263.1 1556.6,262.4 1558.4,261.6 1560.3,260.8 1562.1,260 1564,259.2 1565.8,258.5 1567.7,257.7 1569.5,256.9 1571.4,256.2 1573.2,255.4 1575.1,254.7 1577,254 1578.8,253.3 1580.7,252.6 1582.6,252 1584.5,251.4 1586.5,250.8 1588.4,250.3 1590.3,249.8 1592.3,249.3 1594.2,248.9 1596.2,248.5 1598.2,248.2 1600.1,247.9 1602.1,247.7 1604.1,247.5 1606.1,247.4 1608.1,247.4 1610.1,247.5 1612.1,247.6 1614.1,247.9 1616.1,248.2 1618,248.6 1620,249.2 1621.9,249.8 1623.7,250.5 1625.6,251.3 1627.4,252.2 1629.2,253.1 1630.9,254 1632.7,254.9 1634.5,255.9 1636.3,256.8 1638,257.7 1639.8,258.7 1641.6,259.6 1643.3,260.6 1645.1,261.5 1646.8,262.5 1648.5,263.5 1650.2,264.6"/>
<path stroke="#ff0000" stroke-width="12.6" stroke-dasharray="0 0.81 12.23 10.75 12.36 10.8 12.34 10.73 12.2 10.57 11.99 10.38 11.84 10.35 11.89 10.41 11.94 10.43 11.93 10.38 10.82 50" d="M1650.2,264.6 1651.9,265.7 1653.6,266.8 1655.2,267.9 1656.9,269.1 1658.5,270.3 1660.1,271.5 1661.6,272.7 1663.2,274 1664.7,275.3 1666.2,276.6 1667.7,277.9 1669.2,279.3 1670.7,280.6 1672.1,282 1673.6,283.4 1675,284.8 1676.5,286.2 1677.9,287.6 1679.3,288.9 1680.8,290.3 1682.2,291.7 1683.6,293.1 1685.1,294.5 1686.5,295.9 1688,297.3 1689.5,298.6 1690.9,300 1692.4,301.3 1693.9,302.6 1695.4,303.9 1697,305.2 1698.5,306.5 1700.1,307.8 1701.7,309 1703.3,310.2 1704.9,311.4 1706.5,312.5 1708.2,313.7 1709.8,314.8 1711.5,315.8 1713.2,316.9 1714.9,317.9 1716.7,318.9 1718.5,319.8 1720.2,320.7 1722,321.6 1723.9,322.4 1725.7,323.2 1727.6,324 1729.4,324.6 1731.3,325.3 1733.3,325.9 1735.2,326.4 1737.1,326.9 1739.1,327.3 1741.1,327.6 1743,327.9 1745,328.1 1747,328.3 1749,328.4 1751,328.5 1753,328.5 1755,328.4 1757,328.3 1759,328.2 1761,328 1763,327.8 1765,327.5 1767,327.2 1768.9,326.9 1770.9,326.6 1772.9,326.2 1774.8,325.8 1776.8,325.3 1778.7,324.9 1780.7,324.4 1782.6,323.9 1784.6,323.4 1786.5,322.9 1788.4,322.3 1790.3,321.8 1792.3,321.2 1794.2,320.7 1796.1,320.1 1798,319.5 1799.9,318.9 1801.8,318.3 1803.7,317.7 1805.7,317.1 1807.6,316.5 1809.5,315.9 1811.4,315.4 1813.3,314.8 1815.3,314.3 1817.2,313.8 1819.1,313.3 1821.1,312.8 1823,312.3 1825,311.9 1826.9,311.5 1828.9,311.1 1830.9,310.7 1832.8,310.4 1834.8,310.2 1836.8,309.9 1838.8,309.7 1840.8,309.6 1841.8,309.5"/>
</g>
<g fill="none" stroke-linecap="butt">
<path stroke="#000" stroke-width="7.8" d="M820.2,961.3 H1065.7"/>
<path stroke="#ff0000" stroke-width="6.6" d="M820.2,1043.6 H1065.7"/>
<path stroke="#000" stroke-width="12.6" d="M820.2,1125.8 H833 M842.9,1125.8 H856.1 M867.1,1125.8 H879.4 M890.3,1125.8 H903.7 M914,1125.8 H926.8 M938,1125.8 H950 M961.1,1125.8 H966.1 M973.2,1125.8 H985.5 M996.4,1125.8 H1009.7 M1020,1125.8 H1032.9 M1044,1125.8 H1056.1"/>
<path stroke="#ff0000" stroke-width="12.6" d="M820.2,1208.4 H833 M842.9,1208.4 H856.1 M867.1,1208.4 H879.4 M890.3,1208.4 H903.7 M914,1208.4 H926.8 M938,1208.4 H950 M961.1,1208.4 H966.1 M973.2,1208.4 H985.5 M996.4,1208.4 H1009.7 M1020,1208.4 H1032.9 M1044,1208.4 H1056.1"/>
</g>
<text class="lg" x="1082.4" y="985.2" font-size="65.7">Simulation with pad</text>
<text class="lg" x="1082.4" y="1067.8" font-size="65.7">Simulation without pad</text>
<text class="lg" x="1082.4" y="1149.6" font-size="65.7">Measurement with pad</text>
<text class="lg" x="1082.4" y="1231.3" font-size="65.7">Measurement without pad</text>
<text class="tk" transform="translate(245.4,1368.3) scale(0.985,1)" font-size="66.7" text-anchor="middle">0</text>
<text class="tk" transform="translate(405,1368.3) scale(0.985,1)" font-size="66.7" text-anchor="middle">1</text>
<text class="tk" transform="translate(564.5,1368.3) scale(0.985,1)" font-size="66.7" text-anchor="middle">2</text>
<text class="tk" transform="translate(724.1,1368.3) scale(0.985,1)" font-size="66.7" text-anchor="middle">3</text>
<text class="tk" transform="translate(883.7,1368.3) scale(0.985,1)" font-size="66.7" text-anchor="middle">4</text>
<text class="tk" transform="translate(1043.2,1368.3) scale(0.985,1)" font-size="66.7" text-anchor="middle">5</text>
<text class="tk" transform="translate(1202.8,1368.3) scale(0.985,1)" font-size="66.7" text-anchor="middle">6</text>
<text class="tk" transform="translate(1362.4,1368.3) scale(0.985,1)" font-size="66.7" text-anchor="middle">7</text>
<text class="tk" transform="translate(1522,1368.3) scale(0.985,1)" font-size="66.7" text-anchor="middle">8</text>
<text class="tk" transform="translate(1681.5,1368.3) scale(0.985,1)" font-size="66.7" text-anchor="middle">9</text>
<text class="tk" transform="translate(1841.1,1368.3) scale(0.985,1)" font-size="66.7" text-anchor="middle">10</text>
<text class="tk" transform="translate(231,71.3) scale(0.985,1)" font-size="66.7" text-anchor="end">0</text>
<text class="tk" transform="translate(231,226.8) scale(0.985,1)" font-size="66.7" text-anchor="end">-5</text>
<text class="tk" transform="translate(231,382.2) scale(0.985,1)" font-size="66.7" text-anchor="end">-10</text>
<text class="tk" transform="translate(231,537.7) scale(0.985,1)" font-size="66.7" text-anchor="end">-15</text>
<text class="tk" transform="translate(231,693.2) scale(0.985,1)" font-size="66.7" text-anchor="end">-20</text>
<text class="tk" transform="translate(231,848.7) scale(0.985,1)" font-size="66.7" text-anchor="end">-25</text>
<text class="tk" transform="translate(231,1004.1) scale(0.985,1)" font-size="66.7" text-anchor="end">-30</text>
<text class="tk" transform="translate(231,1159.6) scale(0.985,1)" font-size="66.7" text-anchor="end">-35</text>
<text class="tk" transform="translate(231,1315.1) scale(0.985,1)" font-size="66.7" text-anchor="end">-40</text>
<text class="tk" transform="translate(1044,1457) scale(0.9946,1)" font-size="73.3" text-anchor="middle">Frequency, GHz</text>
<text class="tk" transform="translate(80.1,799.9) rotate(-90)" font-size="73.3" text-anchor="start"><tspan x="0 18.6" y="0">|s</tspan><tspan x="56.5 89.1" y="35" font-size="58.6">11</tspan><tspan x="119.9 137.9 158.3 177.6 217.9" y="0">|, dB</tspan></text>
</svg>
</body>
</html>
